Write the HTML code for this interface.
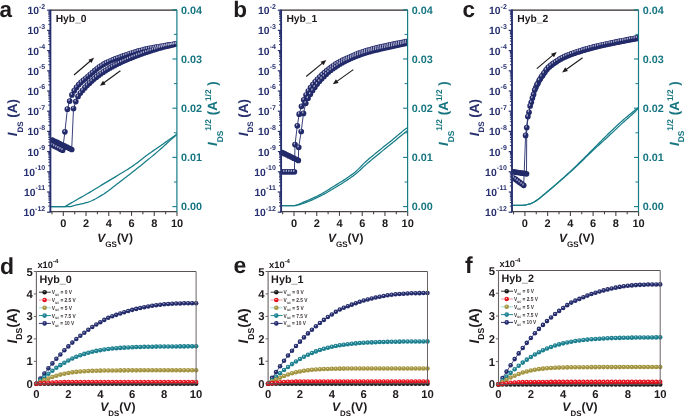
<!DOCTYPE html>
<html><head><meta charset="utf-8"><style>
html,body{margin:0;padding:0;background:#fff;width:685px;height:417px;overflow:hidden}
svg{display:block;font-family:"Liberation Sans", sans-serif;will-change:transform;text-rendering:geometricPrecision}
</style></head><body>
<svg width="685" height="417" viewBox="0 0 685 417">
<rect width="685" height="417" fill="#fff"/>
<defs>
<circle id="tb" r="2.85" fill="#222a69"/>
<ellipse id="th" cx="-0.8" cy="-0.9" rx="0.7" ry="1.15" fill="#acadcc" transform="rotate(10)"/>
<g id="td"><use href="#tb"/><use href="#th"/></g>
</defs>
<clipPath id="clipa"><rect x="50.4" y="10.2" width="126.5" height="201.5"/></clipPath>
<text x="-0.6" y="16.5" font-size="22.5" fill="#1f1a1b" text-anchor="start" font-weight="bold" font-style="normal" >a</text>
<text x="55.7" y="21.9" font-size="10.3" fill="#1f1a1b" text-anchor="start" font-weight="bold" font-style="normal" >Hyb_0</text>
<g clip-path="url(#clipa)">
<polyline points="50.5,206.6 65,206.6 66.26,205.86 67.52,205.12 68.78,204.38 70.03,203.64 71.29,202.9 72.55,202.17 73.81,201.44 75.07,200.72 76.33,200 77.58,199.28 78.84,198.57 80.1,197.86 81.36,197.16 82.62,196.45 83.88,195.74 85.13,195.02 86.39,194.3 87.65,193.57 88.91,192.84 90.17,192.09 91.43,191.33 92.69,190.57 93.94,189.8 95.2,189.02 96.46,188.24 97.72,187.47 98.98,186.69 100.24,185.91 101.49,185.14 102.75,184.37 104.01,183.61 105.27,182.85 106.53,182.1 107.79,181.35 109.04,180.6 110.3,179.85 111.56,179.1 112.82,178.35 114.08,177.6 115.34,176.85 116.6,176.09 117.85,175.33 119.11,174.56 120.37,173.79 121.63,173.02 122.89,172.25 124.15,171.49 125.4,170.72 126.66,169.94 127.92,169.16 129.18,168.36 130.44,167.55 131.7,166.71 132.96,165.86 134.21,164.98 135.47,164.07 136.73,163.13 137.99,162.17 139.25,161.2 140.51,160.21 141.76,159.23 143.02,158.24 144.28,157.27 145.54,156.31 146.8,155.36 148.06,154.44 149.31,153.54 150.57,152.64 151.83,151.76 153.09,150.88 154.35,150.01 155.61,149.14 156.87,148.27 158.12,147.41 159.38,146.54 160.64,145.67 161.9,144.79 163.16,143.91 164.42,143.02 165.67,142.12 166.93,141.22 168.19,140.32 169.45,139.42 170.71,138.53 171.97,137.64 173.22,136.76 174.48,135.89 175.74,135.03 177,134.2" fill="none" stroke="#167d87" stroke-width="1.25" stroke-linejoin="round" />
<polyline points="50.5,206.6 70.8,206.6 71.99,206.22 73.19,205.85 74.38,205.51 75.57,205.18 76.77,204.89 77.96,204.61 79.15,204.34 80.35,204.08 81.54,203.82 82.73,203.55 83.93,203.28 85.12,202.98 86.31,202.66 87.51,202.32 88.7,201.93 89.89,201.51 91.09,201.03 92.28,200.5 93.47,199.93 94.67,199.32 95.86,198.68 97.05,198.01 98.24,197.32 99.44,196.6 100.63,195.88 101.82,195.15 103.02,194.41 104.21,193.66 105.4,192.87 106.6,192.04 107.79,191.18 108.98,190.29 110.18,189.38 111.37,188.46 112.56,187.53 113.76,186.59 114.95,185.66 116.14,184.73 117.34,183.8 118.53,182.9 119.72,181.99 120.92,181.08 122.11,180.17 123.3,179.26 124.5,178.34 125.69,177.42 126.88,176.5 128.08,175.57 129.27,174.64 130.46,173.71 131.66,172.78 132.85,171.84 134.04,170.9 135.24,169.96 136.43,169.01 137.62,168.06 138.82,167.11 140.01,166.15 141.2,165.19 142.4,164.23 143.59,163.26 144.78,162.29 145.98,161.32 147.17,160.34 148.36,159.35 149.56,158.37 150.75,157.38 151.94,156.39 153.13,155.4 154.33,154.4 155.52,153.4 156.71,152.39 157.91,151.38 159.1,150.35 160.29,149.32 161.49,148.28 162.68,147.23 163.87,146.15 165.07,145.05 166.26,143.94 167.45,142.83 168.65,141.72 169.84,140.64 171.03,139.6 172.23,138.6 173.42,137.59 174.61,136.54 175.81,135.41 177,134.2" fill="none" stroke="#167d87" stroke-width="1.25" stroke-linejoin="round" />
<polyline points="52.3,140.1 54.72,141.28 57.15,142.45 59.58,143.62 62,144.8 64.42,145.97 66.85,147.15 69.28,148.32 71.7,149.5 73.5,108.5 75.77,101.56 78.05,96.41 80.32,93.05 82.6,90.28 84.87,87.71 87.14,85.36 89.42,83.15 91.69,81.07 93.97,79.1 96.24,77.22 98.51,75.43 100.79,73.75 103.06,72.19 105.34,70.71 107.61,69.3 109.88,67.97 112.16,66.69 114.43,65.48 116.71,64.31 118.98,63.19 121.25,62.11 123.53,61.07 125.8,60.07 128.08,59.1 130.35,58.16 132.62,57.23 134.9,56.33 137.17,55.45 139.45,54.6 141.72,53.78 143.99,52.99 146.27,52.23 148.54,51.47 150.82,50.74 153.09,50 155.36,49.28 157.64,48.58 159.91,47.92 162.19,47.31 164.46,46.73 166.73,46.17 169.01,45.63 171.28,45.11 173.56,44.61 175.83,44.14" fill="none" stroke="#222a69" stroke-width="0.9" stroke-linejoin="round" />
<polyline points="52.3,145 54.36,146.04 56.42,147.08 58.48,148.12 60.54,149.16 62.6,150.2 64.9,131.8 67.4,109.2 69.67,101.08 71.95,94.9 74.22,90.69 76.5,87.4 78.77,84.62 81.04,82.29 83.32,80.34 85.59,78.48 87.87,76.5 90.14,74.52 92.41,72.59 94.69,70.66 96.96,68.76 99.24,67.02 101.51,65.53 103.78,64.17 106.06,62.92 108.33,61.78 110.61,60.73 112.88,59.8 115.15,58.94 117.43,58.13 119.7,57.31 121.98,56.47 124.25,55.62 126.52,54.8 128.8,54 131.07,53.25 133.35,52.53 135.62,51.83 137.89,51.17 140.17,50.56 142.44,49.98 144.72,49.44 146.99,48.93 149.26,48.45 151.54,48 153.81,47.58 156.09,47.18 158.36,46.78 160.63,46.39 162.91,45.99 165.18,45.6 167.46,45.22 169.73,44.84 172,44.48 174.28,44.12 176.55,43.77" fill="none" stroke="#222a69" stroke-width="0.9" stroke-linejoin="round" />
<use href="#tb" x="52.3" y="145"/>
<use href="#tb" x="54.36" y="146.04"/>
<use href="#tb" x="56.42" y="147.08"/>
<use href="#tb" x="58.48" y="148.12"/>
<use href="#tb" x="60.54" y="149.16"/>
<use href="#tb" x="62.6" y="150.2"/>
<use href="#tb" x="64.9" y="131.8"/>
<use href="#tb" x="67.4" y="109.2"/>
<use href="#tb" x="69.67" y="101.08"/>
<use href="#tb" x="71.95" y="94.9"/>
<use href="#tb" x="74.22" y="90.69"/>
<use href="#tb" x="76.5" y="87.4"/>
<use href="#tb" x="78.77" y="84.62"/>
<use href="#tb" x="81.04" y="82.29"/>
<use href="#tb" x="83.32" y="80.34"/>
<use href="#tb" x="85.59" y="78.48"/>
<use href="#tb" x="87.87" y="76.5"/>
<use href="#tb" x="90.14" y="74.52"/>
<use href="#tb" x="92.41" y="72.59"/>
<use href="#tb" x="94.69" y="70.66"/>
<use href="#tb" x="96.96" y="68.76"/>
<use href="#tb" x="99.24" y="67.02"/>
<use href="#tb" x="101.51" y="65.53"/>
<use href="#tb" x="103.78" y="64.17"/>
<use href="#tb" x="106.06" y="62.92"/>
<use href="#tb" x="108.33" y="61.78"/>
<use href="#tb" x="110.61" y="60.73"/>
<use href="#tb" x="112.88" y="59.8"/>
<use href="#tb" x="115.15" y="58.94"/>
<use href="#tb" x="117.43" y="58.13"/>
<use href="#tb" x="119.7" y="57.31"/>
<use href="#tb" x="121.98" y="56.47"/>
<use href="#tb" x="124.25" y="55.62"/>
<use href="#tb" x="126.52" y="54.8"/>
<use href="#tb" x="128.8" y="54"/>
<use href="#tb" x="131.07" y="53.25"/>
<use href="#tb" x="133.35" y="52.53"/>
<use href="#tb" x="135.62" y="51.83"/>
<use href="#tb" x="137.89" y="51.17"/>
<use href="#tb" x="140.17" y="50.56"/>
<use href="#tb" x="142.44" y="49.98"/>
<use href="#tb" x="144.72" y="49.44"/>
<use href="#tb" x="146.99" y="48.93"/>
<use href="#tb" x="149.26" y="48.45"/>
<use href="#tb" x="151.54" y="48"/>
<use href="#tb" x="153.81" y="47.58"/>
<use href="#tb" x="156.09" y="47.18"/>
<use href="#tb" x="158.36" y="46.78"/>
<use href="#tb" x="160.63" y="46.39"/>
<use href="#tb" x="162.91" y="45.99"/>
<use href="#tb" x="165.18" y="45.6"/>
<use href="#tb" x="167.46" y="45.22"/>
<use href="#tb" x="169.73" y="44.84"/>
<use href="#tb" x="172" y="44.48"/>
<use href="#tb" x="174.28" y="44.12"/>
<use href="#tb" x="176.55" y="43.77"/>
<use href="#tb" x="175.83" y="44.14"/>
<use href="#tb" x="173.56" y="44.61"/>
<use href="#tb" x="171.28" y="45.11"/>
<use href="#tb" x="169.01" y="45.63"/>
<use href="#tb" x="166.73" y="46.17"/>
<use href="#tb" x="164.46" y="46.73"/>
<use href="#tb" x="162.19" y="47.31"/>
<use href="#tb" x="159.91" y="47.92"/>
<use href="#tb" x="157.64" y="48.58"/>
<use href="#tb" x="155.36" y="49.28"/>
<use href="#tb" x="153.09" y="50"/>
<use href="#tb" x="150.82" y="50.74"/>
<use href="#tb" x="148.54" y="51.47"/>
<use href="#tb" x="146.27" y="52.23"/>
<use href="#tb" x="143.99" y="52.99"/>
<use href="#tb" x="141.72" y="53.78"/>
<use href="#tb" x="139.45" y="54.6"/>
<use href="#tb" x="137.17" y="55.45"/>
<use href="#tb" x="134.9" y="56.33"/>
<use href="#tb" x="132.62" y="57.23"/>
<use href="#tb" x="130.35" y="58.16"/>
<use href="#tb" x="128.08" y="59.1"/>
<use href="#tb" x="125.8" y="60.07"/>
<use href="#tb" x="123.53" y="61.07"/>
<use href="#tb" x="121.25" y="62.11"/>
<use href="#tb" x="118.98" y="63.19"/>
<use href="#tb" x="116.71" y="64.31"/>
<use href="#tb" x="114.43" y="65.48"/>
<use href="#tb" x="112.16" y="66.69"/>
<use href="#tb" x="109.88" y="67.97"/>
<use href="#tb" x="107.61" y="69.3"/>
<use href="#tb" x="105.34" y="70.71"/>
<use href="#tb" x="103.06" y="72.19"/>
<use href="#tb" x="100.79" y="73.75"/>
<use href="#tb" x="98.51" y="75.43"/>
<use href="#tb" x="96.24" y="77.22"/>
<use href="#tb" x="93.97" y="79.1"/>
<use href="#tb" x="91.69" y="81.07"/>
<use href="#tb" x="89.42" y="83.15"/>
<use href="#tb" x="87.14" y="85.36"/>
<use href="#tb" x="84.87" y="87.71"/>
<use href="#tb" x="82.6" y="90.28"/>
<use href="#tb" x="80.32" y="93.05"/>
<use href="#tb" x="78.05" y="96.41"/>
<use href="#tb" x="75.77" y="101.56"/>
<use href="#tb" x="73.5" y="108.5"/>
<use href="#tb" x="71.7" y="149.5"/>
<use href="#tb" x="69.28" y="148.32"/>
<use href="#tb" x="66.85" y="147.15"/>
<use href="#tb" x="64.42" y="145.97"/>
<use href="#tb" x="62" y="144.8"/>
<use href="#tb" x="59.58" y="143.62"/>
<use href="#tb" x="57.15" y="142.45"/>
<use href="#tb" x="54.72" y="141.28"/>
<use href="#tb" x="52.3" y="140.1"/>
<use href="#th" x="52.3" y="145"/>
<use href="#th" x="54.36" y="146.04"/>
<use href="#th" x="56.42" y="147.08"/>
<use href="#th" x="58.48" y="148.12"/>
<use href="#th" x="60.54" y="149.16"/>
<use href="#th" x="62.6" y="150.2"/>
<use href="#th" x="64.9" y="131.8"/>
<use href="#th" x="67.4" y="109.2"/>
<use href="#th" x="69.67" y="101.08"/>
<use href="#th" x="71.95" y="94.9"/>
<use href="#th" x="74.22" y="90.69"/>
<use href="#th" x="76.5" y="87.4"/>
<use href="#th" x="78.77" y="84.62"/>
<use href="#th" x="81.04" y="82.29"/>
<use href="#th" x="83.32" y="80.34"/>
<use href="#th" x="85.59" y="78.48"/>
<use href="#th" x="87.87" y="76.5"/>
<use href="#th" x="90.14" y="74.52"/>
<use href="#th" x="92.41" y="72.59"/>
<use href="#th" x="94.69" y="70.66"/>
<use href="#th" x="96.96" y="68.76"/>
<use href="#th" x="99.24" y="67.02"/>
<use href="#th" x="101.51" y="65.53"/>
<use href="#th" x="103.78" y="64.17"/>
<use href="#th" x="106.06" y="62.92"/>
<use href="#th" x="108.33" y="61.78"/>
<use href="#th" x="110.61" y="60.73"/>
<use href="#th" x="112.88" y="59.8"/>
<use href="#th" x="115.15" y="58.94"/>
<use href="#th" x="117.43" y="58.13"/>
<use href="#th" x="119.7" y="57.31"/>
<use href="#th" x="121.98" y="56.47"/>
<use href="#th" x="124.25" y="55.62"/>
<use href="#th" x="126.52" y="54.8"/>
<use href="#th" x="128.8" y="54"/>
<use href="#th" x="131.07" y="53.25"/>
<use href="#th" x="133.35" y="52.53"/>
<use href="#th" x="135.62" y="51.83"/>
<use href="#th" x="137.89" y="51.17"/>
<use href="#th" x="140.17" y="50.56"/>
<use href="#th" x="142.44" y="49.98"/>
<use href="#th" x="144.72" y="49.44"/>
<use href="#th" x="146.99" y="48.93"/>
<use href="#th" x="149.26" y="48.45"/>
<use href="#th" x="151.54" y="48"/>
<use href="#th" x="153.81" y="47.58"/>
<use href="#th" x="156.09" y="47.18"/>
<use href="#th" x="158.36" y="46.78"/>
<use href="#th" x="160.63" y="46.39"/>
<use href="#th" x="162.91" y="45.99"/>
<use href="#th" x="165.18" y="45.6"/>
<use href="#th" x="167.46" y="45.22"/>
<use href="#th" x="169.73" y="44.84"/>
<use href="#th" x="172" y="44.48"/>
<use href="#th" x="174.28" y="44.12"/>
<use href="#th" x="176.55" y="43.77"/>
<use href="#th" x="73.5" y="108.5"/>
<use href="#th" x="75.77" y="101.56"/>
<use href="#th" x="78.05" y="96.41"/>
<use href="#th" x="80.32" y="93.05"/>
<use href="#th" x="82.6" y="90.28"/>
<use href="#th" x="84.87" y="87.71"/>
<use href="#th" x="87.14" y="85.36"/>
<use href="#th" x="89.42" y="83.15"/>
<use href="#th" x="91.69" y="81.07"/>
<use href="#th" x="93.97" y="79.1"/>
<use href="#th" x="96.24" y="77.22"/>
<use href="#th" x="98.51" y="75.43"/>
<use href="#th" x="100.79" y="73.75"/>
<use href="#th" x="103.06" y="72.19"/>
<use href="#th" x="105.34" y="70.71"/>
<use href="#th" x="107.61" y="69.3"/>
<use href="#th" x="109.88" y="67.97"/>
<use href="#th" x="112.16" y="66.69"/>
<use href="#th" x="114.43" y="65.48"/>
<use href="#th" x="116.71" y="64.31"/>
<use href="#th" x="118.98" y="63.19"/>
<use href="#th" x="121.25" y="62.11"/>
<use href="#th" x="123.53" y="61.07"/>
<use href="#th" x="125.8" y="60.07"/>
<use href="#th" x="128.08" y="59.1"/>
<use href="#th" x="130.35" y="58.16"/>
<use href="#th" x="132.62" y="57.23"/>
<use href="#th" x="134.9" y="56.33"/>
<use href="#th" x="137.17" y="55.45"/>
<use href="#th" x="139.45" y="54.6"/>
<use href="#th" x="141.72" y="53.78"/>
<use href="#th" x="143.99" y="52.99"/>
<use href="#th" x="146.27" y="52.23"/>
<use href="#th" x="148.54" y="51.47"/>
<use href="#th" x="150.82" y="50.74"/>
<use href="#th" x="153.09" y="50"/>
<use href="#th" x="155.36" y="49.28"/>
<use href="#th" x="157.64" y="48.58"/>
<use href="#th" x="159.91" y="47.92"/>
<use href="#th" x="162.19" y="47.31"/>
<use href="#th" x="164.46" y="46.73"/>
<use href="#th" x="166.73" y="46.17"/>
<use href="#th" x="169.01" y="45.63"/>
<use href="#th" x="171.28" y="45.11"/>
<use href="#th" x="173.56" y="44.61"/>
<use href="#th" x="175.83" y="44.14"/>
</g>
<line x1="74" y1="75" x2="90.3" y2="61.05" stroke="#1f1a1b" stroke-width="1.15"/>
<polygon points="94.1,57.8 91.42,63.12 88.43,59.63" fill="#1f1a1b"/>
<line x1="120.4" y1="70.7" x2="103.93" y2="82.83" stroke="#1f1a1b" stroke-width="1.15"/>
<polygon points="99.9,85.8 102.96,80.69 105.69,84.39" fill="#1f1a1b"/>
<line x1="50.4" y1="10.2" x2="176.9" y2="10.2" stroke="#2e2829" stroke-width="1.2"/>
<line x1="49.5" y1="211.7" x2="176.9" y2="211.7" stroke="#4a4343" stroke-width="1.2"/>
<line x1="51.93" y1="211.7" x2="51.93" y2="214.3" stroke="#4a4343" stroke-width="1.1"/>
<line x1="63.3" y1="211.7" x2="63.3" y2="215.9" stroke="#4a4343" stroke-width="1.1"/>
<text x="63.3" y="226.8" font-size="11" fill="#1f1a1b" text-anchor="middle" font-weight="bold" font-style="normal" >0</text>
<line x1="74.67" y1="211.7" x2="74.67" y2="214.3" stroke="#4a4343" stroke-width="1.1"/>
<line x1="86.04" y1="211.7" x2="86.04" y2="215.9" stroke="#4a4343" stroke-width="1.1"/>
<text x="86.04" y="226.8" font-size="11" fill="#1f1a1b" text-anchor="middle" font-weight="bold" font-style="normal" >2</text>
<line x1="97.41" y1="211.7" x2="97.41" y2="214.3" stroke="#4a4343" stroke-width="1.1"/>
<line x1="108.78" y1="211.7" x2="108.78" y2="215.9" stroke="#4a4343" stroke-width="1.1"/>
<text x="108.78" y="226.8" font-size="11" fill="#1f1a1b" text-anchor="middle" font-weight="bold" font-style="normal" >4</text>
<line x1="120.15" y1="211.7" x2="120.15" y2="214.3" stroke="#4a4343" stroke-width="1.1"/>
<line x1="131.52" y1="211.7" x2="131.52" y2="215.9" stroke="#4a4343" stroke-width="1.1"/>
<text x="131.52" y="226.8" font-size="11" fill="#1f1a1b" text-anchor="middle" font-weight="bold" font-style="normal" >6</text>
<line x1="142.89" y1="211.7" x2="142.89" y2="214.3" stroke="#4a4343" stroke-width="1.1"/>
<line x1="154.26" y1="211.7" x2="154.26" y2="215.9" stroke="#4a4343" stroke-width="1.1"/>
<text x="154.26" y="226.8" font-size="11" fill="#1f1a1b" text-anchor="middle" font-weight="bold" font-style="normal" >8</text>
<line x1="165.63" y1="211.7" x2="165.63" y2="214.3" stroke="#4a4343" stroke-width="1.1"/>
<line x1="177" y1="211.7" x2="177" y2="215.9" stroke="#4a4343" stroke-width="1.1"/>
<text x="177" y="226.8" font-size="11" fill="#1f1a1b" text-anchor="middle" font-weight="bold" font-style="normal" >10</text>
<line x1="176.9" y1="9.8" x2="176.9" y2="212.2" stroke="#167d87" stroke-width="1.2"/>
<line x1="172.4" y1="9.8" x2="176.9" y2="9.8" stroke="#167d87" stroke-width="1.1"/>
<text x="181.1" y="13.5" font-size="10.8" fill="#157580" text-anchor="start" font-weight="bold" font-style="normal" >0.04</text>
<line x1="172.4" y1="59" x2="176.9" y2="59" stroke="#167d87" stroke-width="1.1"/>
<text x="181.1" y="62.7" font-size="10.8" fill="#157580" text-anchor="start" font-weight="bold" font-style="normal" >0.03</text>
<line x1="172.4" y1="108.2" x2="176.9" y2="108.2" stroke="#167d87" stroke-width="1.1"/>
<text x="181.1" y="111.9" font-size="10.8" fill="#157580" text-anchor="start" font-weight="bold" font-style="normal" >0.02</text>
<line x1="172.4" y1="157.4" x2="176.9" y2="157.4" stroke="#167d87" stroke-width="1.1"/>
<text x="181.1" y="161.1" font-size="10.8" fill="#157580" text-anchor="start" font-weight="bold" font-style="normal" >0.01</text>
<line x1="172.4" y1="206.6" x2="176.9" y2="206.6" stroke="#167d87" stroke-width="1.1"/>
<text x="181.1" y="210.3" font-size="10.8" fill="#157580" text-anchor="start" font-weight="bold" font-style="normal" >0.00</text>
<line x1="173.9" y1="34.4" x2="176.9" y2="34.4" stroke="#167d87" stroke-width="1.0"/>
<line x1="173.9" y1="83.6" x2="176.9" y2="83.6" stroke="#167d87" stroke-width="1.0"/>
<line x1="173.9" y1="132.8" x2="176.9" y2="132.8" stroke="#167d87" stroke-width="1.0"/>
<line x1="173.9" y1="182" x2="176.9" y2="182" stroke="#167d87" stroke-width="1.0"/>
<line x1="50.4" y1="9.6" x2="50.4" y2="212.3" stroke="#27306e" stroke-width="1.9"/>
<line x1="47.1" y1="10.2" x2="50.4" y2="10.2" stroke="#27306e" stroke-width="1.2"/>
<text x="45.2" y="14.2" font-size="10.4" fill="#27306e" text-anchor="end" font-weight="bold">10<tspan font-size="7" dy="-5.6">-2</tspan></text>
<line x1="48.3" y1="24.32" x2="50.4" y2="24.32" stroke="#27306e" stroke-width="1.0"/>
<line x1="48.3" y1="20.76" x2="50.4" y2="20.76" stroke="#27306e" stroke-width="1.0"/>
<line x1="48.3" y1="18.24" x2="50.4" y2="18.24" stroke="#27306e" stroke-width="1.0"/>
<line x1="48.3" y1="16.28" x2="50.4" y2="16.28" stroke="#27306e" stroke-width="1.0"/>
<line x1="48.3" y1="14.68" x2="50.4" y2="14.68" stroke="#27306e" stroke-width="1.0"/>
<line x1="48.3" y1="13.33" x2="50.4" y2="13.33" stroke="#27306e" stroke-width="1.0"/>
<line x1="48.3" y1="12.16" x2="50.4" y2="12.16" stroke="#27306e" stroke-width="1.0"/>
<line x1="48.3" y1="11.12" x2="50.4" y2="11.12" stroke="#27306e" stroke-width="1.0"/>
<line x1="47.1" y1="30.4" x2="50.4" y2="30.4" stroke="#27306e" stroke-width="1.2"/>
<text x="45.2" y="34.4" font-size="10.4" fill="#27306e" text-anchor="end" font-weight="bold">10<tspan font-size="7" dy="-5.6">-3</tspan></text>
<line x1="48.3" y1="44.52" x2="50.4" y2="44.52" stroke="#27306e" stroke-width="1.0"/>
<line x1="48.3" y1="40.96" x2="50.4" y2="40.96" stroke="#27306e" stroke-width="1.0"/>
<line x1="48.3" y1="38.44" x2="50.4" y2="38.44" stroke="#27306e" stroke-width="1.0"/>
<line x1="48.3" y1="36.48" x2="50.4" y2="36.48" stroke="#27306e" stroke-width="1.0"/>
<line x1="48.3" y1="34.88" x2="50.4" y2="34.88" stroke="#27306e" stroke-width="1.0"/>
<line x1="48.3" y1="33.53" x2="50.4" y2="33.53" stroke="#27306e" stroke-width="1.0"/>
<line x1="48.3" y1="32.36" x2="50.4" y2="32.36" stroke="#27306e" stroke-width="1.0"/>
<line x1="48.3" y1="31.32" x2="50.4" y2="31.32" stroke="#27306e" stroke-width="1.0"/>
<line x1="47.1" y1="50.6" x2="50.4" y2="50.6" stroke="#27306e" stroke-width="1.2"/>
<text x="45.2" y="54.6" font-size="10.4" fill="#27306e" text-anchor="end" font-weight="bold">10<tspan font-size="7" dy="-5.6">-4</tspan></text>
<line x1="48.3" y1="64.72" x2="50.4" y2="64.72" stroke="#27306e" stroke-width="1.0"/>
<line x1="48.3" y1="61.16" x2="50.4" y2="61.16" stroke="#27306e" stroke-width="1.0"/>
<line x1="48.3" y1="58.64" x2="50.4" y2="58.64" stroke="#27306e" stroke-width="1.0"/>
<line x1="48.3" y1="56.68" x2="50.4" y2="56.68" stroke="#27306e" stroke-width="1.0"/>
<line x1="48.3" y1="55.08" x2="50.4" y2="55.08" stroke="#27306e" stroke-width="1.0"/>
<line x1="48.3" y1="53.73" x2="50.4" y2="53.73" stroke="#27306e" stroke-width="1.0"/>
<line x1="48.3" y1="52.56" x2="50.4" y2="52.56" stroke="#27306e" stroke-width="1.0"/>
<line x1="48.3" y1="51.52" x2="50.4" y2="51.52" stroke="#27306e" stroke-width="1.0"/>
<line x1="47.1" y1="70.8" x2="50.4" y2="70.8" stroke="#27306e" stroke-width="1.2"/>
<text x="45.2" y="74.8" font-size="10.4" fill="#27306e" text-anchor="end" font-weight="bold">10<tspan font-size="7" dy="-5.6">-5</tspan></text>
<line x1="48.3" y1="84.92" x2="50.4" y2="84.92" stroke="#27306e" stroke-width="1.0"/>
<line x1="48.3" y1="81.36" x2="50.4" y2="81.36" stroke="#27306e" stroke-width="1.0"/>
<line x1="48.3" y1="78.84" x2="50.4" y2="78.84" stroke="#27306e" stroke-width="1.0"/>
<line x1="48.3" y1="76.88" x2="50.4" y2="76.88" stroke="#27306e" stroke-width="1.0"/>
<line x1="48.3" y1="75.28" x2="50.4" y2="75.28" stroke="#27306e" stroke-width="1.0"/>
<line x1="48.3" y1="73.93" x2="50.4" y2="73.93" stroke="#27306e" stroke-width="1.0"/>
<line x1="48.3" y1="72.76" x2="50.4" y2="72.76" stroke="#27306e" stroke-width="1.0"/>
<line x1="48.3" y1="71.72" x2="50.4" y2="71.72" stroke="#27306e" stroke-width="1.0"/>
<line x1="47.1" y1="91" x2="50.4" y2="91" stroke="#27306e" stroke-width="1.2"/>
<text x="45.2" y="95" font-size="10.4" fill="#27306e" text-anchor="end" font-weight="bold">10<tspan font-size="7" dy="-5.6">-6</tspan></text>
<line x1="48.3" y1="105.12" x2="50.4" y2="105.12" stroke="#27306e" stroke-width="1.0"/>
<line x1="48.3" y1="101.56" x2="50.4" y2="101.56" stroke="#27306e" stroke-width="1.0"/>
<line x1="48.3" y1="99.04" x2="50.4" y2="99.04" stroke="#27306e" stroke-width="1.0"/>
<line x1="48.3" y1="97.08" x2="50.4" y2="97.08" stroke="#27306e" stroke-width="1.0"/>
<line x1="48.3" y1="95.48" x2="50.4" y2="95.48" stroke="#27306e" stroke-width="1.0"/>
<line x1="48.3" y1="94.13" x2="50.4" y2="94.13" stroke="#27306e" stroke-width="1.0"/>
<line x1="48.3" y1="92.96" x2="50.4" y2="92.96" stroke="#27306e" stroke-width="1.0"/>
<line x1="48.3" y1="91.92" x2="50.4" y2="91.92" stroke="#27306e" stroke-width="1.0"/>
<line x1="47.1" y1="111.2" x2="50.4" y2="111.2" stroke="#27306e" stroke-width="1.2"/>
<text x="45.2" y="115.2" font-size="10.4" fill="#27306e" text-anchor="end" font-weight="bold">10<tspan font-size="7" dy="-5.6">-7</tspan></text>
<line x1="48.3" y1="125.32" x2="50.4" y2="125.32" stroke="#27306e" stroke-width="1.0"/>
<line x1="48.3" y1="121.76" x2="50.4" y2="121.76" stroke="#27306e" stroke-width="1.0"/>
<line x1="48.3" y1="119.24" x2="50.4" y2="119.24" stroke="#27306e" stroke-width="1.0"/>
<line x1="48.3" y1="117.28" x2="50.4" y2="117.28" stroke="#27306e" stroke-width="1.0"/>
<line x1="48.3" y1="115.68" x2="50.4" y2="115.68" stroke="#27306e" stroke-width="1.0"/>
<line x1="48.3" y1="114.33" x2="50.4" y2="114.33" stroke="#27306e" stroke-width="1.0"/>
<line x1="48.3" y1="113.16" x2="50.4" y2="113.16" stroke="#27306e" stroke-width="1.0"/>
<line x1="48.3" y1="112.12" x2="50.4" y2="112.12" stroke="#27306e" stroke-width="1.0"/>
<line x1="47.1" y1="131.4" x2="50.4" y2="131.4" stroke="#27306e" stroke-width="1.2"/>
<text x="45.2" y="135.4" font-size="10.4" fill="#27306e" text-anchor="end" font-weight="bold">10<tspan font-size="7" dy="-5.6">-8</tspan></text>
<line x1="48.3" y1="145.52" x2="50.4" y2="145.52" stroke="#27306e" stroke-width="1.0"/>
<line x1="48.3" y1="141.96" x2="50.4" y2="141.96" stroke="#27306e" stroke-width="1.0"/>
<line x1="48.3" y1="139.44" x2="50.4" y2="139.44" stroke="#27306e" stroke-width="1.0"/>
<line x1="48.3" y1="137.48" x2="50.4" y2="137.48" stroke="#27306e" stroke-width="1.0"/>
<line x1="48.3" y1="135.88" x2="50.4" y2="135.88" stroke="#27306e" stroke-width="1.0"/>
<line x1="48.3" y1="134.53" x2="50.4" y2="134.53" stroke="#27306e" stroke-width="1.0"/>
<line x1="48.3" y1="133.36" x2="50.4" y2="133.36" stroke="#27306e" stroke-width="1.0"/>
<line x1="48.3" y1="132.32" x2="50.4" y2="132.32" stroke="#27306e" stroke-width="1.0"/>
<line x1="47.1" y1="151.6" x2="50.4" y2="151.6" stroke="#27306e" stroke-width="1.2"/>
<text x="45.2" y="155.6" font-size="10.4" fill="#27306e" text-anchor="end" font-weight="bold">10<tspan font-size="7" dy="-5.6">-9</tspan></text>
<line x1="48.3" y1="165.72" x2="50.4" y2="165.72" stroke="#27306e" stroke-width="1.0"/>
<line x1="48.3" y1="162.16" x2="50.4" y2="162.16" stroke="#27306e" stroke-width="1.0"/>
<line x1="48.3" y1="159.64" x2="50.4" y2="159.64" stroke="#27306e" stroke-width="1.0"/>
<line x1="48.3" y1="157.68" x2="50.4" y2="157.68" stroke="#27306e" stroke-width="1.0"/>
<line x1="48.3" y1="156.08" x2="50.4" y2="156.08" stroke="#27306e" stroke-width="1.0"/>
<line x1="48.3" y1="154.73" x2="50.4" y2="154.73" stroke="#27306e" stroke-width="1.0"/>
<line x1="48.3" y1="153.56" x2="50.4" y2="153.56" stroke="#27306e" stroke-width="1.0"/>
<line x1="48.3" y1="152.52" x2="50.4" y2="152.52" stroke="#27306e" stroke-width="1.0"/>
<line x1="47.1" y1="171.8" x2="50.4" y2="171.8" stroke="#27306e" stroke-width="1.2"/>
<text x="45.2" y="175.8" font-size="10.4" fill="#27306e" text-anchor="end" font-weight="bold">10<tspan font-size="7" dy="-5.6">-10</tspan></text>
<line x1="48.3" y1="185.92" x2="50.4" y2="185.92" stroke="#27306e" stroke-width="1.0"/>
<line x1="48.3" y1="182.36" x2="50.4" y2="182.36" stroke="#27306e" stroke-width="1.0"/>
<line x1="48.3" y1="179.84" x2="50.4" y2="179.84" stroke="#27306e" stroke-width="1.0"/>
<line x1="48.3" y1="177.88" x2="50.4" y2="177.88" stroke="#27306e" stroke-width="1.0"/>
<line x1="48.3" y1="176.28" x2="50.4" y2="176.28" stroke="#27306e" stroke-width="1.0"/>
<line x1="48.3" y1="174.93" x2="50.4" y2="174.93" stroke="#27306e" stroke-width="1.0"/>
<line x1="48.3" y1="173.76" x2="50.4" y2="173.76" stroke="#27306e" stroke-width="1.0"/>
<line x1="48.3" y1="172.72" x2="50.4" y2="172.72" stroke="#27306e" stroke-width="1.0"/>
<line x1="47.1" y1="192" x2="50.4" y2="192" stroke="#27306e" stroke-width="1.2"/>
<text x="45.2" y="196" font-size="10.4" fill="#27306e" text-anchor="end" font-weight="bold">10<tspan font-size="7" dy="-5.6">-11</tspan></text>
<line x1="48.3" y1="206.12" x2="50.4" y2="206.12" stroke="#27306e" stroke-width="1.0"/>
<line x1="48.3" y1="202.56" x2="50.4" y2="202.56" stroke="#27306e" stroke-width="1.0"/>
<line x1="48.3" y1="200.04" x2="50.4" y2="200.04" stroke="#27306e" stroke-width="1.0"/>
<line x1="48.3" y1="198.08" x2="50.4" y2="198.08" stroke="#27306e" stroke-width="1.0"/>
<line x1="48.3" y1="196.48" x2="50.4" y2="196.48" stroke="#27306e" stroke-width="1.0"/>
<line x1="48.3" y1="195.13" x2="50.4" y2="195.13" stroke="#27306e" stroke-width="1.0"/>
<line x1="48.3" y1="193.96" x2="50.4" y2="193.96" stroke="#27306e" stroke-width="1.0"/>
<line x1="48.3" y1="192.92" x2="50.4" y2="192.92" stroke="#27306e" stroke-width="1.0"/>
<line x1="47.1" y1="212.2" x2="50.4" y2="212.2" stroke="#27306e" stroke-width="1.2"/>
<text x="45.2" y="216.2" font-size="10.4" fill="#27306e" text-anchor="end" font-weight="bold">10<tspan font-size="7" dy="-5.6">-12</tspan></text>
<text x="97.3" y="241.7" font-size="12" fill="#1f1a1b" font-weight="bold"><tspan font-style="italic">V</tspan><tspan font-size="8" dy="5.4">GS</tspan><tspan dy="-5.4">(V)</tspan></text>
<text transform="translate(17.4,136.3) rotate(-90)" font-size="13.5" fill="#27306e" font-weight="bold"><tspan font-style="italic">I</tspan><tspan font-size="8" dy="5.2">DS</tspan><tspan dy="-5.2"> (A)</tspan></text>
<text transform="translate(217.2,146) rotate(-90)" font-size="13.4" fill="#157580" font-weight="bold"><tspan font-style="italic">I</tspan><tspan font-size="8.4" dy="5.6">DS</tspan><tspan font-size="8.4" dy="-11.4">1/2</tspan><tspan dy="5.8"> (A</tspan><tspan font-size="8.4" dy="-5.8">1/2</tspan><tspan dy="5.8"> )</tspan></text>
<clipPath id="clipb"><rect x="281.1" y="10.2" width="126.5" height="201.5"/></clipPath>
<text x="233.3" y="16.5" font-size="22.5" fill="#1f1a1b" text-anchor="start" font-weight="bold" font-style="normal" >b</text>
<text x="286.4" y="21.9" font-size="10.3" fill="#1f1a1b" text-anchor="start" font-weight="bold" font-style="normal" >Hyb_1</text>
<g clip-path="url(#clipb)">
<polyline points="281.2,205.6 294,205.6 295.28,205.27 296.55,204.9 297.83,204.49 299.11,204.02 300.38,203.51 301.66,202.98 302.93,202.43 304.21,201.88 305.49,201.34 306.76,200.8 308.04,200.26 309.32,199.71 310.59,199.16 311.87,198.59 313.15,198.02 314.42,197.44 315.7,196.83 316.98,196.22 318.25,195.58 319.53,194.92 320.8,194.23 322.08,193.51 323.36,192.77 324.63,192.02 325.91,191.24 327.19,190.45 328.46,189.66 329.74,188.86 331.02,188.06 332.29,187.26 333.57,186.47 334.84,185.69 336.12,184.9 337.4,184.12 338.67,183.33 339.95,182.53 341.23,181.73 342.5,180.92 343.78,180.1 345.06,179.27 346.33,178.42 347.61,177.56 348.89,176.68 350.16,175.78 351.44,174.87 352.71,173.93 353.99,172.96 355.27,171.93 356.54,170.84 357.82,169.65 359.1,168.38 360.37,167.06 361.65,165.73 362.93,164.41 364.2,163.13 365.48,161.94 366.76,160.79 368.03,159.68 369.31,158.58 370.58,157.51 371.86,156.45 373.14,155.41 374.41,154.37 375.69,153.34 376.97,152.3 378.24,151.27 379.52,150.22 380.8,149.18 382.07,148.14 383.35,147.11 384.62,146.09 385.9,145.06 387.18,144.04 388.45,143.01 389.73,141.98 391.01,140.95 392.28,139.9 393.56,138.85 394.84,137.78 396.11,136.7 397.39,135.62 398.67,134.54 399.94,133.47 401.22,132.41 402.49,131.37 403.77,130.35 405.05,129.36 406.32,128.42 407.6,127.5" fill="none" stroke="#167d87" stroke-width="1.25" stroke-linejoin="round" />
<polyline points="281.2,205.6 296,205.6 297.25,205.26 298.51,204.9 299.76,204.53 301.02,204.14 302.27,203.73 303.52,203.31 304.78,202.87 306.03,202.4 307.29,201.92 308.54,201.42 309.79,200.91 311.05,200.37 312.3,199.83 313.56,199.27 314.81,198.69 316.06,198.11 317.32,197.51 318.57,196.91 319.82,196.3 321.08,195.66 322.33,195 323.59,194.33 324.84,193.64 326.09,192.94 327.35,192.22 328.6,191.5 329.86,190.77 331.11,190.03 332.36,189.29 333.62,188.55 334.87,187.81 336.13,187.05 337.38,186.29 338.63,185.52 339.89,184.74 341.14,183.95 342.4,183.16 343.65,182.35 344.9,181.54 346.16,180.71 347.41,179.87 348.67,179.03 349.92,178.17 351.17,177.31 352.43,176.42 353.68,175.51 354.93,174.56 356.19,173.57 357.44,172.5 358.7,171.37 359.95,170.2 361.2,169.01 362.46,167.81 363.71,166.63 364.97,165.49 366.22,164.4 367.47,163.32 368.73,162.25 369.98,161.19 371.24,160.14 372.49,159.1 373.74,158.06 375,157.03 376.25,156 377.51,154.97 378.76,153.94 380.01,152.92 381.27,151.89 382.52,150.88 383.78,149.87 385.03,148.86 386.28,147.85 387.54,146.85 388.79,145.84 390.04,144.83 391.3,143.81 392.55,142.78 393.81,141.75 395.06,140.7 396.31,139.65 397.57,138.6 398.82,137.55 400.08,136.51 401.33,135.47 402.58,134.44 403.84,133.43 405.09,132.43 406.35,131.45 407.6,130.5" fill="none" stroke="#167d87" stroke-width="1.25" stroke-linejoin="round" />
<polyline points="282.2,152.5 284.5,153.63 286.8,154.76 289.1,155.89 291.4,157.01 293.7,158.14 296,159.27 298.3,160.4 298.7,147.3 301.2,131.5 303.47,113.45 305.75,103.26 308.02,98.26 310.3,94.15 312.57,90.52 314.84,87.15 317.12,84.1 319.39,81.35 321.67,78.78 323.94,76.38 326.21,74.16 328.49,72.12 330.76,70.26 333.04,68.52 335.31,66.9 337.58,65.4 339.86,64.01 342.13,62.71 344.41,61.5 346.68,60.36 348.95,59.28 351.23,58.25 353.5,57.25 355.78,56.31 358.05,55.41 360.32,54.57 362.6,53.78 364.87,53.03 367.15,52.32 369.42,51.66 371.69,51.04 373.97,50.46 376.24,49.91 378.52,49.38 380.79,48.85 383.06,48.32 385.34,47.8 387.61,47.29 389.89,46.78 392.16,46.28 394.43,45.79 396.71,45.29 398.98,44.8 401.26,44.33 403.53,43.87 405.8,43.46 408.08,43.09" fill="none" stroke="#222a69" stroke-width="0.9" stroke-linejoin="round" />
<polyline points="282,171.8 284.48,171.8 286.96,171.8 289.44,171.8 291.92,171.8 294.4,171.8 295,144.6 297.3,125.8 299.2,114.2 301.47,106.3 303.75,99.81 306.02,95.02 308.3,91.02 310.57,87.59 312.84,84.57 315.12,81.84 317.39,79.36 319.67,77.05 321.94,74.89 324.21,72.85 326.49,70.94 328.76,69.12 331.04,67.38 333.31,65.73 335.58,64.19 337.86,62.8 340.13,61.55 342.41,60.42 344.68,59.36 346.95,58.35 349.23,57.35 351.5,56.32 353.78,55.29 356.05,54.28 358.32,53.35 360.6,52.52 362.87,51.77 365.15,51.08 367.42,50.42 369.69,49.79 371.97,49.16 374.24,48.55 376.52,47.96 378.79,47.4 381.06,46.86 383.34,46.34 385.61,45.84 387.89,45.36 390.16,44.89 392.43,44.42 394.71,43.95 396.98,43.47 399.26,43.01 401.53,42.55 403.8,42.12 406.08,41.71 408.35,41.34" fill="none" stroke="#222a69" stroke-width="0.9" stroke-linejoin="round" />
<use href="#tb" x="282" y="171.8"/>
<use href="#tb" x="284.48" y="171.8"/>
<use href="#tb" x="286.96" y="171.8"/>
<use href="#tb" x="289.44" y="171.8"/>
<use href="#tb" x="291.92" y="171.8"/>
<use href="#tb" x="294.4" y="171.8"/>
<use href="#tb" x="295" y="144.6"/>
<use href="#tb" x="297.3" y="125.8"/>
<use href="#tb" x="299.2" y="114.2"/>
<use href="#tb" x="301.47" y="106.3"/>
<use href="#tb" x="303.75" y="99.81"/>
<use href="#tb" x="306.02" y="95.02"/>
<use href="#tb" x="308.3" y="91.02"/>
<use href="#tb" x="310.57" y="87.59"/>
<use href="#tb" x="312.84" y="84.57"/>
<use href="#tb" x="315.12" y="81.84"/>
<use href="#tb" x="317.39" y="79.36"/>
<use href="#tb" x="319.67" y="77.05"/>
<use href="#tb" x="321.94" y="74.89"/>
<use href="#tb" x="324.21" y="72.85"/>
<use href="#tb" x="326.49" y="70.94"/>
<use href="#tb" x="328.76" y="69.12"/>
<use href="#tb" x="331.04" y="67.38"/>
<use href="#tb" x="333.31" y="65.73"/>
<use href="#tb" x="335.58" y="64.19"/>
<use href="#tb" x="337.86" y="62.8"/>
<use href="#tb" x="340.13" y="61.55"/>
<use href="#tb" x="342.41" y="60.42"/>
<use href="#tb" x="344.68" y="59.36"/>
<use href="#tb" x="346.95" y="58.35"/>
<use href="#tb" x="349.23" y="57.35"/>
<use href="#tb" x="351.5" y="56.32"/>
<use href="#tb" x="353.78" y="55.29"/>
<use href="#tb" x="356.05" y="54.28"/>
<use href="#tb" x="358.32" y="53.35"/>
<use href="#tb" x="360.6" y="52.52"/>
<use href="#tb" x="362.87" y="51.77"/>
<use href="#tb" x="365.15" y="51.08"/>
<use href="#tb" x="367.42" y="50.42"/>
<use href="#tb" x="369.69" y="49.79"/>
<use href="#tb" x="371.97" y="49.16"/>
<use href="#tb" x="374.24" y="48.55"/>
<use href="#tb" x="376.52" y="47.96"/>
<use href="#tb" x="378.79" y="47.4"/>
<use href="#tb" x="381.06" y="46.86"/>
<use href="#tb" x="383.34" y="46.34"/>
<use href="#tb" x="385.61" y="45.84"/>
<use href="#tb" x="387.89" y="45.36"/>
<use href="#tb" x="390.16" y="44.89"/>
<use href="#tb" x="392.43" y="44.42"/>
<use href="#tb" x="394.71" y="43.95"/>
<use href="#tb" x="396.98" y="43.47"/>
<use href="#tb" x="399.26" y="43.01"/>
<use href="#tb" x="401.53" y="42.55"/>
<use href="#tb" x="403.8" y="42.12"/>
<use href="#tb" x="406.08" y="41.71"/>
<use href="#tb" x="408.35" y="41.34"/>
<use href="#tb" x="408.08" y="43.09"/>
<use href="#tb" x="405.8" y="43.46"/>
<use href="#tb" x="403.53" y="43.87"/>
<use href="#tb" x="401.26" y="44.33"/>
<use href="#tb" x="398.98" y="44.8"/>
<use href="#tb" x="396.71" y="45.29"/>
<use href="#tb" x="394.43" y="45.79"/>
<use href="#tb" x="392.16" y="46.28"/>
<use href="#tb" x="389.89" y="46.78"/>
<use href="#tb" x="387.61" y="47.29"/>
<use href="#tb" x="385.34" y="47.8"/>
<use href="#tb" x="383.06" y="48.32"/>
<use href="#tb" x="380.79" y="48.85"/>
<use href="#tb" x="378.52" y="49.38"/>
<use href="#tb" x="376.24" y="49.91"/>
<use href="#tb" x="373.97" y="50.46"/>
<use href="#tb" x="371.69" y="51.04"/>
<use href="#tb" x="369.42" y="51.66"/>
<use href="#tb" x="367.15" y="52.32"/>
<use href="#tb" x="364.87" y="53.03"/>
<use href="#tb" x="362.6" y="53.78"/>
<use href="#tb" x="360.32" y="54.57"/>
<use href="#tb" x="358.05" y="55.41"/>
<use href="#tb" x="355.78" y="56.31"/>
<use href="#tb" x="353.5" y="57.25"/>
<use href="#tb" x="351.23" y="58.25"/>
<use href="#tb" x="348.95" y="59.28"/>
<use href="#tb" x="346.68" y="60.36"/>
<use href="#tb" x="344.41" y="61.5"/>
<use href="#tb" x="342.13" y="62.71"/>
<use href="#tb" x="339.86" y="64.01"/>
<use href="#tb" x="337.58" y="65.4"/>
<use href="#tb" x="335.31" y="66.9"/>
<use href="#tb" x="333.04" y="68.52"/>
<use href="#tb" x="330.76" y="70.26"/>
<use href="#tb" x="328.49" y="72.12"/>
<use href="#tb" x="326.21" y="74.16"/>
<use href="#tb" x="323.94" y="76.38"/>
<use href="#tb" x="321.67" y="78.78"/>
<use href="#tb" x="319.39" y="81.35"/>
<use href="#tb" x="317.12" y="84.1"/>
<use href="#tb" x="314.84" y="87.15"/>
<use href="#tb" x="312.57" y="90.52"/>
<use href="#tb" x="310.3" y="94.15"/>
<use href="#tb" x="308.02" y="98.26"/>
<use href="#tb" x="305.75" y="103.26"/>
<use href="#tb" x="303.47" y="113.45"/>
<use href="#tb" x="301.2" y="131.5"/>
<use href="#tb" x="298.7" y="147.3"/>
<use href="#tb" x="298.3" y="160.4"/>
<use href="#tb" x="296" y="159.27"/>
<use href="#tb" x="293.7" y="158.14"/>
<use href="#tb" x="291.4" y="157.01"/>
<use href="#tb" x="289.1" y="155.89"/>
<use href="#tb" x="286.8" y="154.76"/>
<use href="#tb" x="284.5" y="153.63"/>
<use href="#tb" x="282.2" y="152.5"/>
<use href="#th" x="282" y="171.8"/>
<use href="#th" x="284.48" y="171.8"/>
<use href="#th" x="286.96" y="171.8"/>
<use href="#th" x="289.44" y="171.8"/>
<use href="#th" x="291.92" y="171.8"/>
<use href="#th" x="294.4" y="171.8"/>
<use href="#th" x="295" y="144.6"/>
<use href="#th" x="297.3" y="125.8"/>
<use href="#th" x="299.2" y="114.2"/>
<use href="#th" x="301.47" y="106.3"/>
<use href="#th" x="303.75" y="99.81"/>
<use href="#th" x="306.02" y="95.02"/>
<use href="#th" x="308.3" y="91.02"/>
<use href="#th" x="310.57" y="87.59"/>
<use href="#th" x="312.84" y="84.57"/>
<use href="#th" x="315.12" y="81.84"/>
<use href="#th" x="317.39" y="79.36"/>
<use href="#th" x="319.67" y="77.05"/>
<use href="#th" x="321.94" y="74.89"/>
<use href="#th" x="324.21" y="72.85"/>
<use href="#th" x="326.49" y="70.94"/>
<use href="#th" x="328.76" y="69.12"/>
<use href="#th" x="331.04" y="67.38"/>
<use href="#th" x="333.31" y="65.73"/>
<use href="#th" x="335.58" y="64.19"/>
<use href="#th" x="337.86" y="62.8"/>
<use href="#th" x="340.13" y="61.55"/>
<use href="#th" x="342.41" y="60.42"/>
<use href="#th" x="344.68" y="59.36"/>
<use href="#th" x="346.95" y="58.35"/>
<use href="#th" x="349.23" y="57.35"/>
<use href="#th" x="351.5" y="56.32"/>
<use href="#th" x="353.78" y="55.29"/>
<use href="#th" x="356.05" y="54.28"/>
<use href="#th" x="358.32" y="53.35"/>
<use href="#th" x="360.6" y="52.52"/>
<use href="#th" x="362.87" y="51.77"/>
<use href="#th" x="365.15" y="51.08"/>
<use href="#th" x="367.42" y="50.42"/>
<use href="#th" x="369.69" y="49.79"/>
<use href="#th" x="371.97" y="49.16"/>
<use href="#th" x="374.24" y="48.55"/>
<use href="#th" x="376.52" y="47.96"/>
<use href="#th" x="378.79" y="47.4"/>
<use href="#th" x="381.06" y="46.86"/>
<use href="#th" x="383.34" y="46.34"/>
<use href="#th" x="385.61" y="45.84"/>
<use href="#th" x="387.89" y="45.36"/>
<use href="#th" x="390.16" y="44.89"/>
<use href="#th" x="392.43" y="44.42"/>
<use href="#th" x="394.71" y="43.95"/>
<use href="#th" x="396.98" y="43.47"/>
<use href="#th" x="399.26" y="43.01"/>
<use href="#th" x="401.53" y="42.55"/>
<use href="#th" x="403.8" y="42.12"/>
<use href="#th" x="406.08" y="41.71"/>
<use href="#th" x="408.35" y="41.34"/>
<use href="#th" x="298.7" y="147.3"/>
<use href="#th" x="301.2" y="131.5"/>
<use href="#th" x="303.47" y="113.45"/>
<use href="#th" x="305.75" y="103.26"/>
<use href="#th" x="308.02" y="98.26"/>
<use href="#th" x="310.3" y="94.15"/>
<use href="#th" x="312.57" y="90.52"/>
<use href="#th" x="314.84" y="87.15"/>
<use href="#th" x="317.12" y="84.1"/>
<use href="#th" x="319.39" y="81.35"/>
<use href="#th" x="321.67" y="78.78"/>
<use href="#th" x="323.94" y="76.38"/>
<use href="#th" x="326.21" y="74.16"/>
<use href="#th" x="328.49" y="72.12"/>
<use href="#th" x="330.76" y="70.26"/>
<use href="#th" x="333.04" y="68.52"/>
<use href="#th" x="335.31" y="66.9"/>
<use href="#th" x="337.58" y="65.4"/>
<use href="#th" x="339.86" y="64.01"/>
<use href="#th" x="342.13" y="62.71"/>
<use href="#th" x="344.41" y="61.5"/>
<use href="#th" x="346.68" y="60.36"/>
<use href="#th" x="348.95" y="59.28"/>
<use href="#th" x="351.23" y="58.25"/>
<use href="#th" x="353.5" y="57.25"/>
<use href="#th" x="355.78" y="56.31"/>
<use href="#th" x="358.05" y="55.41"/>
<use href="#th" x="360.32" y="54.57"/>
<use href="#th" x="362.6" y="53.78"/>
<use href="#th" x="364.87" y="53.03"/>
<use href="#th" x="367.15" y="52.32"/>
<use href="#th" x="369.42" y="51.66"/>
<use href="#th" x="371.69" y="51.04"/>
<use href="#th" x="373.97" y="50.46"/>
<use href="#th" x="376.24" y="49.91"/>
<use href="#th" x="378.52" y="49.38"/>
<use href="#th" x="380.79" y="48.85"/>
<use href="#th" x="383.06" y="48.32"/>
<use href="#th" x="385.34" y="47.8"/>
<use href="#th" x="387.61" y="47.29"/>
<use href="#th" x="389.89" y="46.78"/>
<use href="#th" x="392.16" y="46.28"/>
<use href="#th" x="394.43" y="45.79"/>
<use href="#th" x="396.71" y="45.29"/>
<use href="#th" x="398.98" y="44.8"/>
<use href="#th" x="401.26" y="44.33"/>
<use href="#th" x="403.53" y="43.87"/>
<use href="#th" x="405.8" y="43.46"/>
<use href="#th" x="408.08" y="43.09"/>
</g>
<line x1="306.2" y1="76.5" x2="322.44" y2="63.08" stroke="#1f1a1b" stroke-width="1.15"/>
<polygon points="326.3,59.9 323.52,65.18 320.59,61.63" fill="#1f1a1b"/>
<line x1="353.3" y1="69.6" x2="336.86" y2="81.39" stroke="#1f1a1b" stroke-width="1.15"/>
<polygon points="332.8,84.3 335.93,79.23 338.61,82.96" fill="#1f1a1b"/>
<line x1="281.1" y1="10.2" x2="407.6" y2="10.2" stroke="#2e2829" stroke-width="1.2"/>
<line x1="280.2" y1="211.7" x2="407.6" y2="211.7" stroke="#4a4343" stroke-width="1.2"/>
<line x1="282.63" y1="211.7" x2="282.63" y2="214.3" stroke="#4a4343" stroke-width="1.1"/>
<line x1="294" y1="211.7" x2="294" y2="215.9" stroke="#4a4343" stroke-width="1.1"/>
<text x="294" y="226.8" font-size="11" fill="#1f1a1b" text-anchor="middle" font-weight="bold" font-style="normal" >0</text>
<line x1="305.37" y1="211.7" x2="305.37" y2="214.3" stroke="#4a4343" stroke-width="1.1"/>
<line x1="316.74" y1="211.7" x2="316.74" y2="215.9" stroke="#4a4343" stroke-width="1.1"/>
<text x="316.74" y="226.8" font-size="11" fill="#1f1a1b" text-anchor="middle" font-weight="bold" font-style="normal" >2</text>
<line x1="328.11" y1="211.7" x2="328.11" y2="214.3" stroke="#4a4343" stroke-width="1.1"/>
<line x1="339.48" y1="211.7" x2="339.48" y2="215.9" stroke="#4a4343" stroke-width="1.1"/>
<text x="339.48" y="226.8" font-size="11" fill="#1f1a1b" text-anchor="middle" font-weight="bold" font-style="normal" >4</text>
<line x1="350.85" y1="211.7" x2="350.85" y2="214.3" stroke="#4a4343" stroke-width="1.1"/>
<line x1="362.22" y1="211.7" x2="362.22" y2="215.9" stroke="#4a4343" stroke-width="1.1"/>
<text x="362.22" y="226.8" font-size="11" fill="#1f1a1b" text-anchor="middle" font-weight="bold" font-style="normal" >6</text>
<line x1="373.59" y1="211.7" x2="373.59" y2="214.3" stroke="#4a4343" stroke-width="1.1"/>
<line x1="384.96" y1="211.7" x2="384.96" y2="215.9" stroke="#4a4343" stroke-width="1.1"/>
<text x="384.96" y="226.8" font-size="11" fill="#1f1a1b" text-anchor="middle" font-weight="bold" font-style="normal" >8</text>
<line x1="396.33" y1="211.7" x2="396.33" y2="214.3" stroke="#4a4343" stroke-width="1.1"/>
<line x1="407.7" y1="211.7" x2="407.7" y2="215.9" stroke="#4a4343" stroke-width="1.1"/>
<text x="407.7" y="226.8" font-size="11" fill="#1f1a1b" text-anchor="middle" font-weight="bold" font-style="normal" >10</text>
<line x1="407.6" y1="9.8" x2="407.6" y2="212.2" stroke="#167d87" stroke-width="1.2"/>
<line x1="403.1" y1="9.8" x2="407.6" y2="9.8" stroke="#167d87" stroke-width="1.1"/>
<text x="411.8" y="13.5" font-size="10.8" fill="#157580" text-anchor="start" font-weight="bold" font-style="normal" >0.04</text>
<line x1="403.1" y1="59" x2="407.6" y2="59" stroke="#167d87" stroke-width="1.1"/>
<text x="411.8" y="62.7" font-size="10.8" fill="#157580" text-anchor="start" font-weight="bold" font-style="normal" >0.03</text>
<line x1="403.1" y1="108.2" x2="407.6" y2="108.2" stroke="#167d87" stroke-width="1.1"/>
<text x="411.8" y="111.9" font-size="10.8" fill="#157580" text-anchor="start" font-weight="bold" font-style="normal" >0.02</text>
<line x1="403.1" y1="157.4" x2="407.6" y2="157.4" stroke="#167d87" stroke-width="1.1"/>
<text x="411.8" y="161.1" font-size="10.8" fill="#157580" text-anchor="start" font-weight="bold" font-style="normal" >0.01</text>
<line x1="403.1" y1="206.6" x2="407.6" y2="206.6" stroke="#167d87" stroke-width="1.1"/>
<text x="411.8" y="210.3" font-size="10.8" fill="#157580" text-anchor="start" font-weight="bold" font-style="normal" >0.00</text>
<line x1="404.6" y1="34.4" x2="407.6" y2="34.4" stroke="#167d87" stroke-width="1.0"/>
<line x1="404.6" y1="83.6" x2="407.6" y2="83.6" stroke="#167d87" stroke-width="1.0"/>
<line x1="404.6" y1="132.8" x2="407.6" y2="132.8" stroke="#167d87" stroke-width="1.0"/>
<line x1="404.6" y1="182" x2="407.6" y2="182" stroke="#167d87" stroke-width="1.0"/>
<line x1="281.1" y1="9.6" x2="281.1" y2="212.3" stroke="#27306e" stroke-width="1.9"/>
<line x1="277.8" y1="10.2" x2="281.1" y2="10.2" stroke="#27306e" stroke-width="1.2"/>
<text x="275.9" y="14.2" font-size="10.4" fill="#27306e" text-anchor="end" font-weight="bold">10<tspan font-size="7" dy="-5.6">-2</tspan></text>
<line x1="279" y1="24.32" x2="281.1" y2="24.32" stroke="#27306e" stroke-width="1.0"/>
<line x1="279" y1="20.76" x2="281.1" y2="20.76" stroke="#27306e" stroke-width="1.0"/>
<line x1="279" y1="18.24" x2="281.1" y2="18.24" stroke="#27306e" stroke-width="1.0"/>
<line x1="279" y1="16.28" x2="281.1" y2="16.28" stroke="#27306e" stroke-width="1.0"/>
<line x1="279" y1="14.68" x2="281.1" y2="14.68" stroke="#27306e" stroke-width="1.0"/>
<line x1="279" y1="13.33" x2="281.1" y2="13.33" stroke="#27306e" stroke-width="1.0"/>
<line x1="279" y1="12.16" x2="281.1" y2="12.16" stroke="#27306e" stroke-width="1.0"/>
<line x1="279" y1="11.12" x2="281.1" y2="11.12" stroke="#27306e" stroke-width="1.0"/>
<line x1="277.8" y1="30.4" x2="281.1" y2="30.4" stroke="#27306e" stroke-width="1.2"/>
<text x="275.9" y="34.4" font-size="10.4" fill="#27306e" text-anchor="end" font-weight="bold">10<tspan font-size="7" dy="-5.6">-3</tspan></text>
<line x1="279" y1="44.52" x2="281.1" y2="44.52" stroke="#27306e" stroke-width="1.0"/>
<line x1="279" y1="40.96" x2="281.1" y2="40.96" stroke="#27306e" stroke-width="1.0"/>
<line x1="279" y1="38.44" x2="281.1" y2="38.44" stroke="#27306e" stroke-width="1.0"/>
<line x1="279" y1="36.48" x2="281.1" y2="36.48" stroke="#27306e" stroke-width="1.0"/>
<line x1="279" y1="34.88" x2="281.1" y2="34.88" stroke="#27306e" stroke-width="1.0"/>
<line x1="279" y1="33.53" x2="281.1" y2="33.53" stroke="#27306e" stroke-width="1.0"/>
<line x1="279" y1="32.36" x2="281.1" y2="32.36" stroke="#27306e" stroke-width="1.0"/>
<line x1="279" y1="31.32" x2="281.1" y2="31.32" stroke="#27306e" stroke-width="1.0"/>
<line x1="277.8" y1="50.6" x2="281.1" y2="50.6" stroke="#27306e" stroke-width="1.2"/>
<text x="275.9" y="54.6" font-size="10.4" fill="#27306e" text-anchor="end" font-weight="bold">10<tspan font-size="7" dy="-5.6">-4</tspan></text>
<line x1="279" y1="64.72" x2="281.1" y2="64.72" stroke="#27306e" stroke-width="1.0"/>
<line x1="279" y1="61.16" x2="281.1" y2="61.16" stroke="#27306e" stroke-width="1.0"/>
<line x1="279" y1="58.64" x2="281.1" y2="58.64" stroke="#27306e" stroke-width="1.0"/>
<line x1="279" y1="56.68" x2="281.1" y2="56.68" stroke="#27306e" stroke-width="1.0"/>
<line x1="279" y1="55.08" x2="281.1" y2="55.08" stroke="#27306e" stroke-width="1.0"/>
<line x1="279" y1="53.73" x2="281.1" y2="53.73" stroke="#27306e" stroke-width="1.0"/>
<line x1="279" y1="52.56" x2="281.1" y2="52.56" stroke="#27306e" stroke-width="1.0"/>
<line x1="279" y1="51.52" x2="281.1" y2="51.52" stroke="#27306e" stroke-width="1.0"/>
<line x1="277.8" y1="70.8" x2="281.1" y2="70.8" stroke="#27306e" stroke-width="1.2"/>
<text x="275.9" y="74.8" font-size="10.4" fill="#27306e" text-anchor="end" font-weight="bold">10<tspan font-size="7" dy="-5.6">-5</tspan></text>
<line x1="279" y1="84.92" x2="281.1" y2="84.92" stroke="#27306e" stroke-width="1.0"/>
<line x1="279" y1="81.36" x2="281.1" y2="81.36" stroke="#27306e" stroke-width="1.0"/>
<line x1="279" y1="78.84" x2="281.1" y2="78.84" stroke="#27306e" stroke-width="1.0"/>
<line x1="279" y1="76.88" x2="281.1" y2="76.88" stroke="#27306e" stroke-width="1.0"/>
<line x1="279" y1="75.28" x2="281.1" y2="75.28" stroke="#27306e" stroke-width="1.0"/>
<line x1="279" y1="73.93" x2="281.1" y2="73.93" stroke="#27306e" stroke-width="1.0"/>
<line x1="279" y1="72.76" x2="281.1" y2="72.76" stroke="#27306e" stroke-width="1.0"/>
<line x1="279" y1="71.72" x2="281.1" y2="71.72" stroke="#27306e" stroke-width="1.0"/>
<line x1="277.8" y1="91" x2="281.1" y2="91" stroke="#27306e" stroke-width="1.2"/>
<text x="275.9" y="95" font-size="10.4" fill="#27306e" text-anchor="end" font-weight="bold">10<tspan font-size="7" dy="-5.6">-6</tspan></text>
<line x1="279" y1="105.12" x2="281.1" y2="105.12" stroke="#27306e" stroke-width="1.0"/>
<line x1="279" y1="101.56" x2="281.1" y2="101.56" stroke="#27306e" stroke-width="1.0"/>
<line x1="279" y1="99.04" x2="281.1" y2="99.04" stroke="#27306e" stroke-width="1.0"/>
<line x1="279" y1="97.08" x2="281.1" y2="97.08" stroke="#27306e" stroke-width="1.0"/>
<line x1="279" y1="95.48" x2="281.1" y2="95.48" stroke="#27306e" stroke-width="1.0"/>
<line x1="279" y1="94.13" x2="281.1" y2="94.13" stroke="#27306e" stroke-width="1.0"/>
<line x1="279" y1="92.96" x2="281.1" y2="92.96" stroke="#27306e" stroke-width="1.0"/>
<line x1="279" y1="91.92" x2="281.1" y2="91.92" stroke="#27306e" stroke-width="1.0"/>
<line x1="277.8" y1="111.2" x2="281.1" y2="111.2" stroke="#27306e" stroke-width="1.2"/>
<text x="275.9" y="115.2" font-size="10.4" fill="#27306e" text-anchor="end" font-weight="bold">10<tspan font-size="7" dy="-5.6">-7</tspan></text>
<line x1="279" y1="125.32" x2="281.1" y2="125.32" stroke="#27306e" stroke-width="1.0"/>
<line x1="279" y1="121.76" x2="281.1" y2="121.76" stroke="#27306e" stroke-width="1.0"/>
<line x1="279" y1="119.24" x2="281.1" y2="119.24" stroke="#27306e" stroke-width="1.0"/>
<line x1="279" y1="117.28" x2="281.1" y2="117.28" stroke="#27306e" stroke-width="1.0"/>
<line x1="279" y1="115.68" x2="281.1" y2="115.68" stroke="#27306e" stroke-width="1.0"/>
<line x1="279" y1="114.33" x2="281.1" y2="114.33" stroke="#27306e" stroke-width="1.0"/>
<line x1="279" y1="113.16" x2="281.1" y2="113.16" stroke="#27306e" stroke-width="1.0"/>
<line x1="279" y1="112.12" x2="281.1" y2="112.12" stroke="#27306e" stroke-width="1.0"/>
<line x1="277.8" y1="131.4" x2="281.1" y2="131.4" stroke="#27306e" stroke-width="1.2"/>
<text x="275.9" y="135.4" font-size="10.4" fill="#27306e" text-anchor="end" font-weight="bold">10<tspan font-size="7" dy="-5.6">-8</tspan></text>
<line x1="279" y1="145.52" x2="281.1" y2="145.52" stroke="#27306e" stroke-width="1.0"/>
<line x1="279" y1="141.96" x2="281.1" y2="141.96" stroke="#27306e" stroke-width="1.0"/>
<line x1="279" y1="139.44" x2="281.1" y2="139.44" stroke="#27306e" stroke-width="1.0"/>
<line x1="279" y1="137.48" x2="281.1" y2="137.48" stroke="#27306e" stroke-width="1.0"/>
<line x1="279" y1="135.88" x2="281.1" y2="135.88" stroke="#27306e" stroke-width="1.0"/>
<line x1="279" y1="134.53" x2="281.1" y2="134.53" stroke="#27306e" stroke-width="1.0"/>
<line x1="279" y1="133.36" x2="281.1" y2="133.36" stroke="#27306e" stroke-width="1.0"/>
<line x1="279" y1="132.32" x2="281.1" y2="132.32" stroke="#27306e" stroke-width="1.0"/>
<line x1="277.8" y1="151.6" x2="281.1" y2="151.6" stroke="#27306e" stroke-width="1.2"/>
<text x="275.9" y="155.6" font-size="10.4" fill="#27306e" text-anchor="end" font-weight="bold">10<tspan font-size="7" dy="-5.6">-9</tspan></text>
<line x1="279" y1="165.72" x2="281.1" y2="165.72" stroke="#27306e" stroke-width="1.0"/>
<line x1="279" y1="162.16" x2="281.1" y2="162.16" stroke="#27306e" stroke-width="1.0"/>
<line x1="279" y1="159.64" x2="281.1" y2="159.64" stroke="#27306e" stroke-width="1.0"/>
<line x1="279" y1="157.68" x2="281.1" y2="157.68" stroke="#27306e" stroke-width="1.0"/>
<line x1="279" y1="156.08" x2="281.1" y2="156.08" stroke="#27306e" stroke-width="1.0"/>
<line x1="279" y1="154.73" x2="281.1" y2="154.73" stroke="#27306e" stroke-width="1.0"/>
<line x1="279" y1="153.56" x2="281.1" y2="153.56" stroke="#27306e" stroke-width="1.0"/>
<line x1="279" y1="152.52" x2="281.1" y2="152.52" stroke="#27306e" stroke-width="1.0"/>
<line x1="277.8" y1="171.8" x2="281.1" y2="171.8" stroke="#27306e" stroke-width="1.2"/>
<text x="275.9" y="175.8" font-size="10.4" fill="#27306e" text-anchor="end" font-weight="bold">10<tspan font-size="7" dy="-5.6">-10</tspan></text>
<line x1="279" y1="185.92" x2="281.1" y2="185.92" stroke="#27306e" stroke-width="1.0"/>
<line x1="279" y1="182.36" x2="281.1" y2="182.36" stroke="#27306e" stroke-width="1.0"/>
<line x1="279" y1="179.84" x2="281.1" y2="179.84" stroke="#27306e" stroke-width="1.0"/>
<line x1="279" y1="177.88" x2="281.1" y2="177.88" stroke="#27306e" stroke-width="1.0"/>
<line x1="279" y1="176.28" x2="281.1" y2="176.28" stroke="#27306e" stroke-width="1.0"/>
<line x1="279" y1="174.93" x2="281.1" y2="174.93" stroke="#27306e" stroke-width="1.0"/>
<line x1="279" y1="173.76" x2="281.1" y2="173.76" stroke="#27306e" stroke-width="1.0"/>
<line x1="279" y1="172.72" x2="281.1" y2="172.72" stroke="#27306e" stroke-width="1.0"/>
<line x1="277.8" y1="192" x2="281.1" y2="192" stroke="#27306e" stroke-width="1.2"/>
<text x="275.9" y="196" font-size="10.4" fill="#27306e" text-anchor="end" font-weight="bold">10<tspan font-size="7" dy="-5.6">-11</tspan></text>
<line x1="279" y1="206.12" x2="281.1" y2="206.12" stroke="#27306e" stroke-width="1.0"/>
<line x1="279" y1="202.56" x2="281.1" y2="202.56" stroke="#27306e" stroke-width="1.0"/>
<line x1="279" y1="200.04" x2="281.1" y2="200.04" stroke="#27306e" stroke-width="1.0"/>
<line x1="279" y1="198.08" x2="281.1" y2="198.08" stroke="#27306e" stroke-width="1.0"/>
<line x1="279" y1="196.48" x2="281.1" y2="196.48" stroke="#27306e" stroke-width="1.0"/>
<line x1="279" y1="195.13" x2="281.1" y2="195.13" stroke="#27306e" stroke-width="1.0"/>
<line x1="279" y1="193.96" x2="281.1" y2="193.96" stroke="#27306e" stroke-width="1.0"/>
<line x1="279" y1="192.92" x2="281.1" y2="192.92" stroke="#27306e" stroke-width="1.0"/>
<line x1="277.8" y1="212.2" x2="281.1" y2="212.2" stroke="#27306e" stroke-width="1.2"/>
<text x="275.9" y="216.2" font-size="10.4" fill="#27306e" text-anchor="end" font-weight="bold">10<tspan font-size="7" dy="-5.6">-12</tspan></text>
<text x="328" y="241.7" font-size="12" fill="#1f1a1b" font-weight="bold"><tspan font-style="italic">V</tspan><tspan font-size="8" dy="5.4">GS</tspan><tspan dy="-5.4">(V)</tspan></text>
<text transform="translate(248.1,136.3) rotate(-90)" font-size="13.5" fill="#27306e" font-weight="bold"><tspan font-style="italic">I</tspan><tspan font-size="8" dy="5.2">DS</tspan><tspan dy="-5.2"> (A)</tspan></text>
<text transform="translate(447.9,146) rotate(-90)" font-size="13.4" fill="#157580" font-weight="bold"><tspan font-style="italic">I</tspan><tspan font-size="8.4" dy="5.6">DS</tspan><tspan font-size="8.4" dy="-11.4">1/2</tspan><tspan dy="5.8"> (A</tspan><tspan font-size="8.4" dy="-5.8">1/2</tspan><tspan dy="5.8"> )</tspan></text>
<clipPath id="clipc"><rect x="512" y="10.2" width="126.5" height="201.5"/></clipPath>
<text x="462.5" y="16.5" font-size="22.5" fill="#1f1a1b" text-anchor="start" font-weight="bold" font-style="normal" >c</text>
<text x="517.3" y="21.9" font-size="10.3" fill="#1f1a1b" text-anchor="start" font-weight="bold" font-style="normal" >Hyb_2</text>
<g clip-path="url(#clipc)">
<polyline points="512.5,205.4 520.8,205.4 522.12,205.35 523.44,205.23 524.76,205.03 526.08,204.78 527.4,204.49 528.71,204.17 530.03,203.82 531.35,203.33 532.67,202.7 533.99,201.98 535.31,201.19 536.63,200.38 537.95,199.49 539.27,198.46 540.59,197.36 541.91,196.21 543.22,195.08 544.54,193.99 545.86,192.9 547.18,191.8 548.5,190.7 549.82,189.59 551.14,188.48 552.46,187.36 553.78,186.24 555.1,185.1 556.42,183.96 557.73,182.81 559.05,181.65 560.37,180.48 561.69,179.3 563.01,178.12 564.33,176.93 565.65,175.73 566.97,174.52 568.29,173.31 569.61,172.09 570.93,170.86 572.24,169.62 573.56,168.38 574.88,167.13 576.2,165.86 577.52,164.59 578.84,163.3 580.16,162.01 581.48,160.7 582.8,159.39 584.12,158.08 585.44,156.76 586.76,155.44 588.07,154.12 589.39,152.8 590.71,151.48 592.03,150.17 593.35,148.85 594.67,147.53 595.99,146.2 597.31,144.87 598.63,143.53 599.95,142.2 601.27,140.87 602.58,139.54 603.9,138.22 605.22,136.91 606.54,135.61 607.86,134.32 609.18,133.04 610.5,131.76 611.82,130.49 613.14,129.22 614.46,127.95 615.78,126.7 617.09,125.46 618.41,124.24 619.73,123.03 621.05,121.84 622.37,120.67 623.69,119.52 625.01,118.39 626.33,117.26 627.65,116.15 628.97,115.05 630.29,113.97 631.6,112.9 632.92,111.84 634.24,110.8 635.56,109.77 636.88,108.76 638.2,107.8" fill="none" stroke="#167d87" stroke-width="1.25" stroke-linejoin="round" />
<polyline points="512.5,205.4 520.8,205.4 522.12,205.35 523.44,205.23 524.76,205.03 526.08,204.78 527.4,204.49 528.71,204.17 530.03,203.82 531.35,203.33 532.67,202.7 533.99,201.97 535.31,201.19 536.63,200.38 537.95,199.51 539.27,198.52 540.59,197.46 541.91,196.37 543.22,195.27 544.54,194.2 545.86,193.12 547.18,192.02 548.5,190.92 549.82,189.81 551.14,188.69 552.46,187.56 553.78,186.42 555.1,185.28 556.42,184.14 557.73,183 559.05,181.86 560.37,180.72 561.69,179.57 563.01,178.43 564.33,177.28 565.65,176.12 566.97,174.96 568.29,173.8 569.61,172.62 570.93,171.44 572.24,170.25 573.56,169.04 574.88,167.83 576.2,166.6 577.52,165.35 578.84,164.09 580.16,162.81 581.48,161.52 582.8,160.23 584.12,158.94 585.44,157.64 586.76,156.35 588.07,155.07 589.39,153.79 590.71,152.53 592.03,151.28 593.35,150.05 594.67,148.83 595.99,147.61 597.31,146.41 598.63,145.21 599.95,144.01 601.27,142.81 602.58,141.61 603.9,140.41 605.22,139.21 606.54,138 607.86,136.79 609.18,135.56 610.5,134.33 611.82,133.09 613.14,131.84 614.46,130.59 615.78,129.34 617.09,128.09 618.41,126.85 619.73,125.61 621.05,124.38 622.37,123.16 623.69,121.96 625.01,120.78 626.33,119.61 627.65,118.45 628.97,117.29 630.29,116.12 631.6,114.93 632.92,113.73 634.24,112.49 635.56,111.23 636.88,109.91 638.2,108.5" fill="none" stroke="#167d87" stroke-width="1.25" stroke-linejoin="round" />
<polyline points="511.5,171.5 513.64,171.83 515.79,172.16 517.93,172.49 520.07,172.81 522.21,173.14 524.36,173.47 526.5,173.8 526.74,127.58 529.01,112.26 531.28,102.29 533.56,94.43 535.83,87.55 538.11,82.99 540.38,78.74 542.65,75.4 544.93,72.12 547.2,69.08 549.48,66.81 551.75,64.95 554.02,63.33 556.3,61.8 558.57,60.32 560.85,58.95 563.12,57.74 565.39,56.67 567.67,55.69 569.94,54.79 572.22,53.94 574.49,53.13 576.76,52.36 579.04,51.63 581.31,50.93 583.59,50.26 585.86,49.59 588.13,48.94 590.41,48.31 592.68,47.7 594.96,47.11 597.23,46.55 599.5,46.02 601.78,45.5 604.05,44.99 606.33,44.49 608.6,44.01 610.88,43.53 613.15,43.07 615.42,42.61 617.7,42.16 619.97,41.71 622.25,41.25 624.52,40.8 626.79,40.35 629.07,39.9 631.34,39.46 633.62,39.04 635.89,38.63 638.16,38.24" fill="none" stroke="#222a69" stroke-width="0.9" stroke-linejoin="round" />
<polyline points="513.8,178 515.78,179.46 517.76,180.92 519.74,182.38 521.72,183.84 523.7,185.3 525.6,135.4 527.87,116.53 530.15,105.9 532.42,98.07 534.7,90.12 536.97,84.7 539.24,80.24 541.52,76.51 543.79,73.27 546.07,70.02 548.34,67.36 550.61,65.34 552.89,63.62 555.16,62.06 557.44,60.55 559.71,59.12 561.98,57.82 564.26,56.69 566.53,55.67 568.81,54.74 571.08,53.86 573.35,53.03 575.63,52.24 577.9,51.49 580.18,50.78 582.45,50.09 584.72,49.42 587,48.76 589.27,48.12 591.55,47.5 593.82,46.9 596.09,46.33 598.37,45.78 600.64,45.25 602.92,44.74 605.19,44.24 607.46,43.75 609.74,43.27 612.01,42.8 614.29,42.34 616.56,41.88 618.83,41.43 621.11,40.98 623.38,40.53 625.66,40.07 627.93,39.62 630.2,39.18 632.48,38.75 634.75,38.33 637.03,37.93 639.3,37.55" fill="none" stroke="#222a69" stroke-width="0.9" stroke-linejoin="round" />
<use href="#tb" x="638.16" y="38.24"/>
<use href="#tb" x="635.89" y="38.63"/>
<use href="#tb" x="633.62" y="39.04"/>
<use href="#tb" x="631.34" y="39.46"/>
<use href="#tb" x="629.07" y="39.9"/>
<use href="#tb" x="626.79" y="40.35"/>
<use href="#tb" x="624.52" y="40.8"/>
<use href="#tb" x="622.25" y="41.25"/>
<use href="#tb" x="619.97" y="41.71"/>
<use href="#tb" x="617.7" y="42.16"/>
<use href="#tb" x="615.42" y="42.61"/>
<use href="#tb" x="613.15" y="43.07"/>
<use href="#tb" x="610.88" y="43.53"/>
<use href="#tb" x="608.6" y="44.01"/>
<use href="#tb" x="606.33" y="44.49"/>
<use href="#tb" x="604.05" y="44.99"/>
<use href="#tb" x="601.78" y="45.5"/>
<use href="#tb" x="599.5" y="46.02"/>
<use href="#tb" x="597.23" y="46.55"/>
<use href="#tb" x="594.96" y="47.11"/>
<use href="#tb" x="592.68" y="47.7"/>
<use href="#tb" x="590.41" y="48.31"/>
<use href="#tb" x="588.13" y="48.94"/>
<use href="#tb" x="585.86" y="49.59"/>
<use href="#tb" x="583.59" y="50.26"/>
<use href="#tb" x="581.31" y="50.93"/>
<use href="#tb" x="579.04" y="51.63"/>
<use href="#tb" x="576.76" y="52.36"/>
<use href="#tb" x="574.49" y="53.13"/>
<use href="#tb" x="572.22" y="53.94"/>
<use href="#tb" x="569.94" y="54.79"/>
<use href="#tb" x="567.67" y="55.69"/>
<use href="#tb" x="565.39" y="56.67"/>
<use href="#tb" x="563.12" y="57.74"/>
<use href="#tb" x="560.85" y="58.95"/>
<use href="#tb" x="558.57" y="60.32"/>
<use href="#tb" x="556.3" y="61.8"/>
<use href="#tb" x="554.02" y="63.33"/>
<use href="#tb" x="551.75" y="64.95"/>
<use href="#tb" x="549.48" y="66.81"/>
<use href="#tb" x="547.2" y="69.08"/>
<use href="#tb" x="544.93" y="72.12"/>
<use href="#tb" x="542.65" y="75.4"/>
<use href="#tb" x="540.38" y="78.74"/>
<use href="#tb" x="538.11" y="82.99"/>
<use href="#tb" x="535.83" y="87.55"/>
<use href="#tb" x="533.56" y="94.43"/>
<use href="#tb" x="531.28" y="102.29"/>
<use href="#tb" x="529.01" y="112.26"/>
<use href="#tb" x="526.74" y="127.58"/>
<use href="#tb" x="526.5" y="173.8"/>
<use href="#tb" x="524.36" y="173.47"/>
<use href="#tb" x="522.21" y="173.14"/>
<use href="#tb" x="520.07" y="172.81"/>
<use href="#tb" x="517.93" y="172.49"/>
<use href="#tb" x="515.79" y="172.16"/>
<use href="#tb" x="513.64" y="171.83"/>
<use href="#tb" x="511.5" y="171.5"/>
<use href="#th" x="526.74" y="127.58"/>
<use href="#th" x="529.01" y="112.26"/>
<use href="#th" x="531.28" y="102.29"/>
<use href="#th" x="533.56" y="94.43"/>
<use href="#th" x="535.83" y="87.55"/>
<use href="#th" x="538.11" y="82.99"/>
<use href="#th" x="540.38" y="78.74"/>
<use href="#th" x="542.65" y="75.4"/>
<use href="#th" x="544.93" y="72.12"/>
<use href="#th" x="547.2" y="69.08"/>
<use href="#th" x="549.48" y="66.81"/>
<use href="#th" x="551.75" y="64.95"/>
<use href="#th" x="554.02" y="63.33"/>
<use href="#th" x="556.3" y="61.8"/>
<use href="#th" x="558.57" y="60.32"/>
<use href="#th" x="560.85" y="58.95"/>
<use href="#th" x="563.12" y="57.74"/>
<use href="#th" x="565.39" y="56.67"/>
<use href="#th" x="567.67" y="55.69"/>
<use href="#th" x="569.94" y="54.79"/>
<use href="#th" x="572.22" y="53.94"/>
<use href="#th" x="574.49" y="53.13"/>
<use href="#th" x="576.76" y="52.36"/>
<use href="#th" x="579.04" y="51.63"/>
<use href="#th" x="581.31" y="50.93"/>
<use href="#th" x="583.59" y="50.26"/>
<use href="#th" x="585.86" y="49.59"/>
<use href="#th" x="588.13" y="48.94"/>
<use href="#th" x="590.41" y="48.31"/>
<use href="#th" x="592.68" y="47.7"/>
<use href="#th" x="594.96" y="47.11"/>
<use href="#th" x="597.23" y="46.55"/>
<use href="#th" x="599.5" y="46.02"/>
<use href="#th" x="601.78" y="45.5"/>
<use href="#th" x="604.05" y="44.99"/>
<use href="#th" x="606.33" y="44.49"/>
<use href="#th" x="608.6" y="44.01"/>
<use href="#th" x="610.88" y="43.53"/>
<use href="#th" x="613.15" y="43.07"/>
<use href="#th" x="615.42" y="42.61"/>
<use href="#th" x="617.7" y="42.16"/>
<use href="#th" x="619.97" y="41.71"/>
<use href="#th" x="622.25" y="41.25"/>
<use href="#th" x="624.52" y="40.8"/>
<use href="#th" x="626.79" y="40.35"/>
<use href="#th" x="629.07" y="39.9"/>
<use href="#th" x="631.34" y="39.46"/>
<use href="#th" x="633.62" y="39.04"/>
<use href="#th" x="635.89" y="38.63"/>
<use href="#th" x="638.16" y="38.24"/>
<use href="#tb" x="513.8" y="178"/>
<use href="#tb" x="515.78" y="179.46"/>
<use href="#tb" x="517.76" y="180.92"/>
<use href="#tb" x="519.74" y="182.38"/>
<use href="#tb" x="521.72" y="183.84"/>
<use href="#tb" x="523.7" y="185.3"/>
<use href="#tb" x="525.6" y="135.4"/>
<use href="#tb" x="527.87" y="116.53"/>
<use href="#tb" x="530.15" y="105.9"/>
<use href="#tb" x="532.42" y="98.07"/>
<use href="#tb" x="534.7" y="90.12"/>
<use href="#tb" x="536.97" y="84.7"/>
<use href="#tb" x="539.24" y="80.24"/>
<use href="#tb" x="541.52" y="76.51"/>
<use href="#tb" x="543.79" y="73.27"/>
<use href="#tb" x="546.07" y="70.02"/>
<use href="#tb" x="548.34" y="67.36"/>
<use href="#tb" x="550.61" y="65.34"/>
<use href="#tb" x="552.89" y="63.62"/>
<use href="#tb" x="555.16" y="62.06"/>
<use href="#tb" x="557.44" y="60.55"/>
<use href="#tb" x="559.71" y="59.12"/>
<use href="#tb" x="561.98" y="57.82"/>
<use href="#tb" x="564.26" y="56.69"/>
<use href="#tb" x="566.53" y="55.67"/>
<use href="#tb" x="568.81" y="54.74"/>
<use href="#tb" x="571.08" y="53.86"/>
<use href="#tb" x="573.35" y="53.03"/>
<use href="#tb" x="575.63" y="52.24"/>
<use href="#tb" x="577.9" y="51.49"/>
<use href="#tb" x="580.18" y="50.78"/>
<use href="#tb" x="582.45" y="50.09"/>
<use href="#tb" x="584.72" y="49.42"/>
<use href="#tb" x="587" y="48.76"/>
<use href="#tb" x="589.27" y="48.12"/>
<use href="#tb" x="591.55" y="47.5"/>
<use href="#tb" x="593.82" y="46.9"/>
<use href="#tb" x="596.09" y="46.33"/>
<use href="#tb" x="598.37" y="45.78"/>
<use href="#tb" x="600.64" y="45.25"/>
<use href="#tb" x="602.92" y="44.74"/>
<use href="#tb" x="605.19" y="44.24"/>
<use href="#tb" x="607.46" y="43.75"/>
<use href="#tb" x="609.74" y="43.27"/>
<use href="#tb" x="612.01" y="42.8"/>
<use href="#tb" x="614.29" y="42.34"/>
<use href="#tb" x="616.56" y="41.88"/>
<use href="#tb" x="618.83" y="41.43"/>
<use href="#tb" x="621.11" y="40.98"/>
<use href="#tb" x="623.38" y="40.53"/>
<use href="#tb" x="625.66" y="40.07"/>
<use href="#tb" x="627.93" y="39.62"/>
<use href="#tb" x="630.2" y="39.18"/>
<use href="#tb" x="632.48" y="38.75"/>
<use href="#tb" x="634.75" y="38.33"/>
<use href="#tb" x="637.03" y="37.93"/>
<use href="#tb" x="639.3" y="37.55"/>
<use href="#th" x="513.8" y="178"/>
<use href="#th" x="515.78" y="179.46"/>
<use href="#th" x="517.76" y="180.92"/>
<use href="#th" x="519.74" y="182.38"/>
<use href="#th" x="521.72" y="183.84"/>
<use href="#th" x="523.7" y="185.3"/>
<use href="#th" x="525.6" y="135.4"/>
<use href="#th" x="527.87" y="116.53"/>
<use href="#th" x="530.15" y="105.9"/>
<use href="#th" x="532.42" y="98.07"/>
<use href="#th" x="534.7" y="90.12"/>
<use href="#th" x="536.97" y="84.7"/>
<use href="#th" x="539.24" y="80.24"/>
<use href="#th" x="541.52" y="76.51"/>
<use href="#th" x="543.79" y="73.27"/>
<use href="#th" x="546.07" y="70.02"/>
<use href="#th" x="548.34" y="67.36"/>
<use href="#th" x="550.61" y="65.34"/>
<use href="#th" x="552.89" y="63.62"/>
<use href="#th" x="555.16" y="62.06"/>
<use href="#th" x="557.44" y="60.55"/>
<use href="#th" x="559.71" y="59.12"/>
<use href="#th" x="561.98" y="57.82"/>
<use href="#th" x="564.26" y="56.69"/>
<use href="#th" x="566.53" y="55.67"/>
<use href="#th" x="568.81" y="54.74"/>
<use href="#th" x="571.08" y="53.86"/>
<use href="#th" x="573.35" y="53.03"/>
<use href="#th" x="575.63" y="52.24"/>
<use href="#th" x="577.9" y="51.49"/>
<use href="#th" x="580.18" y="50.78"/>
<use href="#th" x="582.45" y="50.09"/>
<use href="#th" x="584.72" y="49.42"/>
<use href="#th" x="587" y="48.76"/>
<use href="#th" x="589.27" y="48.12"/>
<use href="#th" x="591.55" y="47.5"/>
<use href="#th" x="593.82" y="46.9"/>
<use href="#th" x="596.09" y="46.33"/>
<use href="#th" x="598.37" y="45.78"/>
<use href="#th" x="600.64" y="45.25"/>
<use href="#th" x="602.92" y="44.74"/>
<use href="#th" x="605.19" y="44.24"/>
<use href="#th" x="607.46" y="43.75"/>
<use href="#th" x="609.74" y="43.27"/>
<use href="#th" x="612.01" y="42.8"/>
<use href="#th" x="614.29" y="42.34"/>
<use href="#th" x="616.56" y="41.88"/>
<use href="#th" x="618.83" y="41.43"/>
<use href="#th" x="621.11" y="40.98"/>
<use href="#th" x="623.38" y="40.53"/>
<use href="#th" x="625.66" y="40.07"/>
<use href="#th" x="627.93" y="39.62"/>
<use href="#th" x="630.2" y="39.18"/>
<use href="#th" x="632.48" y="38.75"/>
<use href="#th" x="634.75" y="38.33"/>
<use href="#th" x="637.03" y="37.93"/>
<use href="#th" x="639.3" y="37.55"/>
</g>
<line x1="536.8" y1="68.6" x2="552.87" y2="55.11" stroke="#1f1a1b" stroke-width="1.15"/>
<polygon points="556.7,51.9 553.97,57.2 551.01,53.67" fill="#1f1a1b"/>
<line x1="582.6" y1="57.8" x2="566.17" y2="69.5" stroke="#1f1a1b" stroke-width="1.15"/>
<polygon points="562.1,72.4 565.25,67.34 567.91,71.08" fill="#1f1a1b"/>
<line x1="512" y1="10.2" x2="638.5" y2="10.2" stroke="#2e2829" stroke-width="1.2"/>
<line x1="511.1" y1="211.7" x2="638.5" y2="211.7" stroke="#4a4343" stroke-width="1.2"/>
<line x1="513.53" y1="211.7" x2="513.53" y2="214.3" stroke="#4a4343" stroke-width="1.1"/>
<line x1="524.9" y1="211.7" x2="524.9" y2="215.9" stroke="#4a4343" stroke-width="1.1"/>
<text x="524.9" y="226.8" font-size="11" fill="#1f1a1b" text-anchor="middle" font-weight="bold" font-style="normal" >0</text>
<line x1="536.27" y1="211.7" x2="536.27" y2="214.3" stroke="#4a4343" stroke-width="1.1"/>
<line x1="547.64" y1="211.7" x2="547.64" y2="215.9" stroke="#4a4343" stroke-width="1.1"/>
<text x="547.64" y="226.8" font-size="11" fill="#1f1a1b" text-anchor="middle" font-weight="bold" font-style="normal" >2</text>
<line x1="559.01" y1="211.7" x2="559.01" y2="214.3" stroke="#4a4343" stroke-width="1.1"/>
<line x1="570.38" y1="211.7" x2="570.38" y2="215.9" stroke="#4a4343" stroke-width="1.1"/>
<text x="570.38" y="226.8" font-size="11" fill="#1f1a1b" text-anchor="middle" font-weight="bold" font-style="normal" >4</text>
<line x1="581.75" y1="211.7" x2="581.75" y2="214.3" stroke="#4a4343" stroke-width="1.1"/>
<line x1="593.12" y1="211.7" x2="593.12" y2="215.9" stroke="#4a4343" stroke-width="1.1"/>
<text x="593.12" y="226.8" font-size="11" fill="#1f1a1b" text-anchor="middle" font-weight="bold" font-style="normal" >6</text>
<line x1="604.49" y1="211.7" x2="604.49" y2="214.3" stroke="#4a4343" stroke-width="1.1"/>
<line x1="615.86" y1="211.7" x2="615.86" y2="215.9" stroke="#4a4343" stroke-width="1.1"/>
<text x="615.86" y="226.8" font-size="11" fill="#1f1a1b" text-anchor="middle" font-weight="bold" font-style="normal" >8</text>
<line x1="627.23" y1="211.7" x2="627.23" y2="214.3" stroke="#4a4343" stroke-width="1.1"/>
<line x1="638.6" y1="211.7" x2="638.6" y2="215.9" stroke="#4a4343" stroke-width="1.1"/>
<text x="638.6" y="226.8" font-size="11" fill="#1f1a1b" text-anchor="middle" font-weight="bold" font-style="normal" >10</text>
<line x1="638.5" y1="9.8" x2="638.5" y2="212.2" stroke="#167d87" stroke-width="1.2"/>
<line x1="634" y1="9.8" x2="638.5" y2="9.8" stroke="#167d87" stroke-width="1.1"/>
<text x="642.7" y="13.5" font-size="10.8" fill="#157580" text-anchor="start" font-weight="bold" font-style="normal" >0.04</text>
<line x1="634" y1="59" x2="638.5" y2="59" stroke="#167d87" stroke-width="1.1"/>
<text x="642.7" y="62.7" font-size="10.8" fill="#157580" text-anchor="start" font-weight="bold" font-style="normal" >0.03</text>
<line x1="634" y1="108.2" x2="638.5" y2="108.2" stroke="#167d87" stroke-width="1.1"/>
<text x="642.7" y="111.9" font-size="10.8" fill="#157580" text-anchor="start" font-weight="bold" font-style="normal" >0.02</text>
<line x1="634" y1="157.4" x2="638.5" y2="157.4" stroke="#167d87" stroke-width="1.1"/>
<text x="642.7" y="161.1" font-size="10.8" fill="#157580" text-anchor="start" font-weight="bold" font-style="normal" >0.01</text>
<line x1="634" y1="206.6" x2="638.5" y2="206.6" stroke="#167d87" stroke-width="1.1"/>
<text x="642.7" y="210.3" font-size="10.8" fill="#157580" text-anchor="start" font-weight="bold" font-style="normal" >0.00</text>
<line x1="635.5" y1="34.4" x2="638.5" y2="34.4" stroke="#167d87" stroke-width="1.0"/>
<line x1="635.5" y1="83.6" x2="638.5" y2="83.6" stroke="#167d87" stroke-width="1.0"/>
<line x1="635.5" y1="132.8" x2="638.5" y2="132.8" stroke="#167d87" stroke-width="1.0"/>
<line x1="635.5" y1="182" x2="638.5" y2="182" stroke="#167d87" stroke-width="1.0"/>
<line x1="512" y1="9.6" x2="512" y2="212.3" stroke="#27306e" stroke-width="1.9"/>
<line x1="508.7" y1="10.2" x2="512" y2="10.2" stroke="#27306e" stroke-width="1.2"/>
<text x="506.8" y="14.2" font-size="10.4" fill="#27306e" text-anchor="end" font-weight="bold">10<tspan font-size="7" dy="-5.6">-2</tspan></text>
<line x1="509.9" y1="24.32" x2="512" y2="24.32" stroke="#27306e" stroke-width="1.0"/>
<line x1="509.9" y1="20.76" x2="512" y2="20.76" stroke="#27306e" stroke-width="1.0"/>
<line x1="509.9" y1="18.24" x2="512" y2="18.24" stroke="#27306e" stroke-width="1.0"/>
<line x1="509.9" y1="16.28" x2="512" y2="16.28" stroke="#27306e" stroke-width="1.0"/>
<line x1="509.9" y1="14.68" x2="512" y2="14.68" stroke="#27306e" stroke-width="1.0"/>
<line x1="509.9" y1="13.33" x2="512" y2="13.33" stroke="#27306e" stroke-width="1.0"/>
<line x1="509.9" y1="12.16" x2="512" y2="12.16" stroke="#27306e" stroke-width="1.0"/>
<line x1="509.9" y1="11.12" x2="512" y2="11.12" stroke="#27306e" stroke-width="1.0"/>
<line x1="508.7" y1="30.4" x2="512" y2="30.4" stroke="#27306e" stroke-width="1.2"/>
<text x="506.8" y="34.4" font-size="10.4" fill="#27306e" text-anchor="end" font-weight="bold">10<tspan font-size="7" dy="-5.6">-3</tspan></text>
<line x1="509.9" y1="44.52" x2="512" y2="44.52" stroke="#27306e" stroke-width="1.0"/>
<line x1="509.9" y1="40.96" x2="512" y2="40.96" stroke="#27306e" stroke-width="1.0"/>
<line x1="509.9" y1="38.44" x2="512" y2="38.44" stroke="#27306e" stroke-width="1.0"/>
<line x1="509.9" y1="36.48" x2="512" y2="36.48" stroke="#27306e" stroke-width="1.0"/>
<line x1="509.9" y1="34.88" x2="512" y2="34.88" stroke="#27306e" stroke-width="1.0"/>
<line x1="509.9" y1="33.53" x2="512" y2="33.53" stroke="#27306e" stroke-width="1.0"/>
<line x1="509.9" y1="32.36" x2="512" y2="32.36" stroke="#27306e" stroke-width="1.0"/>
<line x1="509.9" y1="31.32" x2="512" y2="31.32" stroke="#27306e" stroke-width="1.0"/>
<line x1="508.7" y1="50.6" x2="512" y2="50.6" stroke="#27306e" stroke-width="1.2"/>
<text x="506.8" y="54.6" font-size="10.4" fill="#27306e" text-anchor="end" font-weight="bold">10<tspan font-size="7" dy="-5.6">-4</tspan></text>
<line x1="509.9" y1="64.72" x2="512" y2="64.72" stroke="#27306e" stroke-width="1.0"/>
<line x1="509.9" y1="61.16" x2="512" y2="61.16" stroke="#27306e" stroke-width="1.0"/>
<line x1="509.9" y1="58.64" x2="512" y2="58.64" stroke="#27306e" stroke-width="1.0"/>
<line x1="509.9" y1="56.68" x2="512" y2="56.68" stroke="#27306e" stroke-width="1.0"/>
<line x1="509.9" y1="55.08" x2="512" y2="55.08" stroke="#27306e" stroke-width="1.0"/>
<line x1="509.9" y1="53.73" x2="512" y2="53.73" stroke="#27306e" stroke-width="1.0"/>
<line x1="509.9" y1="52.56" x2="512" y2="52.56" stroke="#27306e" stroke-width="1.0"/>
<line x1="509.9" y1="51.52" x2="512" y2="51.52" stroke="#27306e" stroke-width="1.0"/>
<line x1="508.7" y1="70.8" x2="512" y2="70.8" stroke="#27306e" stroke-width="1.2"/>
<text x="506.8" y="74.8" font-size="10.4" fill="#27306e" text-anchor="end" font-weight="bold">10<tspan font-size="7" dy="-5.6">-5</tspan></text>
<line x1="509.9" y1="84.92" x2="512" y2="84.92" stroke="#27306e" stroke-width="1.0"/>
<line x1="509.9" y1="81.36" x2="512" y2="81.36" stroke="#27306e" stroke-width="1.0"/>
<line x1="509.9" y1="78.84" x2="512" y2="78.84" stroke="#27306e" stroke-width="1.0"/>
<line x1="509.9" y1="76.88" x2="512" y2="76.88" stroke="#27306e" stroke-width="1.0"/>
<line x1="509.9" y1="75.28" x2="512" y2="75.28" stroke="#27306e" stroke-width="1.0"/>
<line x1="509.9" y1="73.93" x2="512" y2="73.93" stroke="#27306e" stroke-width="1.0"/>
<line x1="509.9" y1="72.76" x2="512" y2="72.76" stroke="#27306e" stroke-width="1.0"/>
<line x1="509.9" y1="71.72" x2="512" y2="71.72" stroke="#27306e" stroke-width="1.0"/>
<line x1="508.7" y1="91" x2="512" y2="91" stroke="#27306e" stroke-width="1.2"/>
<text x="506.8" y="95" font-size="10.4" fill="#27306e" text-anchor="end" font-weight="bold">10<tspan font-size="7" dy="-5.6">-6</tspan></text>
<line x1="509.9" y1="105.12" x2="512" y2="105.12" stroke="#27306e" stroke-width="1.0"/>
<line x1="509.9" y1="101.56" x2="512" y2="101.56" stroke="#27306e" stroke-width="1.0"/>
<line x1="509.9" y1="99.04" x2="512" y2="99.04" stroke="#27306e" stroke-width="1.0"/>
<line x1="509.9" y1="97.08" x2="512" y2="97.08" stroke="#27306e" stroke-width="1.0"/>
<line x1="509.9" y1="95.48" x2="512" y2="95.48" stroke="#27306e" stroke-width="1.0"/>
<line x1="509.9" y1="94.13" x2="512" y2="94.13" stroke="#27306e" stroke-width="1.0"/>
<line x1="509.9" y1="92.96" x2="512" y2="92.96" stroke="#27306e" stroke-width="1.0"/>
<line x1="509.9" y1="91.92" x2="512" y2="91.92" stroke="#27306e" stroke-width="1.0"/>
<line x1="508.7" y1="111.2" x2="512" y2="111.2" stroke="#27306e" stroke-width="1.2"/>
<text x="506.8" y="115.2" font-size="10.4" fill="#27306e" text-anchor="end" font-weight="bold">10<tspan font-size="7" dy="-5.6">-7</tspan></text>
<line x1="509.9" y1="125.32" x2="512" y2="125.32" stroke="#27306e" stroke-width="1.0"/>
<line x1="509.9" y1="121.76" x2="512" y2="121.76" stroke="#27306e" stroke-width="1.0"/>
<line x1="509.9" y1="119.24" x2="512" y2="119.24" stroke="#27306e" stroke-width="1.0"/>
<line x1="509.9" y1="117.28" x2="512" y2="117.28" stroke="#27306e" stroke-width="1.0"/>
<line x1="509.9" y1="115.68" x2="512" y2="115.68" stroke="#27306e" stroke-width="1.0"/>
<line x1="509.9" y1="114.33" x2="512" y2="114.33" stroke="#27306e" stroke-width="1.0"/>
<line x1="509.9" y1="113.16" x2="512" y2="113.16" stroke="#27306e" stroke-width="1.0"/>
<line x1="509.9" y1="112.12" x2="512" y2="112.12" stroke="#27306e" stroke-width="1.0"/>
<line x1="508.7" y1="131.4" x2="512" y2="131.4" stroke="#27306e" stroke-width="1.2"/>
<text x="506.8" y="135.4" font-size="10.4" fill="#27306e" text-anchor="end" font-weight="bold">10<tspan font-size="7" dy="-5.6">-8</tspan></text>
<line x1="509.9" y1="145.52" x2="512" y2="145.52" stroke="#27306e" stroke-width="1.0"/>
<line x1="509.9" y1="141.96" x2="512" y2="141.96" stroke="#27306e" stroke-width="1.0"/>
<line x1="509.9" y1="139.44" x2="512" y2="139.44" stroke="#27306e" stroke-width="1.0"/>
<line x1="509.9" y1="137.48" x2="512" y2="137.48" stroke="#27306e" stroke-width="1.0"/>
<line x1="509.9" y1="135.88" x2="512" y2="135.88" stroke="#27306e" stroke-width="1.0"/>
<line x1="509.9" y1="134.53" x2="512" y2="134.53" stroke="#27306e" stroke-width="1.0"/>
<line x1="509.9" y1="133.36" x2="512" y2="133.36" stroke="#27306e" stroke-width="1.0"/>
<line x1="509.9" y1="132.32" x2="512" y2="132.32" stroke="#27306e" stroke-width="1.0"/>
<line x1="508.7" y1="151.6" x2="512" y2="151.6" stroke="#27306e" stroke-width="1.2"/>
<text x="506.8" y="155.6" font-size="10.4" fill="#27306e" text-anchor="end" font-weight="bold">10<tspan font-size="7" dy="-5.6">-9</tspan></text>
<line x1="509.9" y1="165.72" x2="512" y2="165.72" stroke="#27306e" stroke-width="1.0"/>
<line x1="509.9" y1="162.16" x2="512" y2="162.16" stroke="#27306e" stroke-width="1.0"/>
<line x1="509.9" y1="159.64" x2="512" y2="159.64" stroke="#27306e" stroke-width="1.0"/>
<line x1="509.9" y1="157.68" x2="512" y2="157.68" stroke="#27306e" stroke-width="1.0"/>
<line x1="509.9" y1="156.08" x2="512" y2="156.08" stroke="#27306e" stroke-width="1.0"/>
<line x1="509.9" y1="154.73" x2="512" y2="154.73" stroke="#27306e" stroke-width="1.0"/>
<line x1="509.9" y1="153.56" x2="512" y2="153.56" stroke="#27306e" stroke-width="1.0"/>
<line x1="509.9" y1="152.52" x2="512" y2="152.52" stroke="#27306e" stroke-width="1.0"/>
<line x1="508.7" y1="171.8" x2="512" y2="171.8" stroke="#27306e" stroke-width="1.2"/>
<text x="506.8" y="175.8" font-size="10.4" fill="#27306e" text-anchor="end" font-weight="bold">10<tspan font-size="7" dy="-5.6">-10</tspan></text>
<line x1="509.9" y1="185.92" x2="512" y2="185.92" stroke="#27306e" stroke-width="1.0"/>
<line x1="509.9" y1="182.36" x2="512" y2="182.36" stroke="#27306e" stroke-width="1.0"/>
<line x1="509.9" y1="179.84" x2="512" y2="179.84" stroke="#27306e" stroke-width="1.0"/>
<line x1="509.9" y1="177.88" x2="512" y2="177.88" stroke="#27306e" stroke-width="1.0"/>
<line x1="509.9" y1="176.28" x2="512" y2="176.28" stroke="#27306e" stroke-width="1.0"/>
<line x1="509.9" y1="174.93" x2="512" y2="174.93" stroke="#27306e" stroke-width="1.0"/>
<line x1="509.9" y1="173.76" x2="512" y2="173.76" stroke="#27306e" stroke-width="1.0"/>
<line x1="509.9" y1="172.72" x2="512" y2="172.72" stroke="#27306e" stroke-width="1.0"/>
<line x1="508.7" y1="192" x2="512" y2="192" stroke="#27306e" stroke-width="1.2"/>
<text x="506.8" y="196" font-size="10.4" fill="#27306e" text-anchor="end" font-weight="bold">10<tspan font-size="7" dy="-5.6">-11</tspan></text>
<line x1="509.9" y1="206.12" x2="512" y2="206.12" stroke="#27306e" stroke-width="1.0"/>
<line x1="509.9" y1="202.56" x2="512" y2="202.56" stroke="#27306e" stroke-width="1.0"/>
<line x1="509.9" y1="200.04" x2="512" y2="200.04" stroke="#27306e" stroke-width="1.0"/>
<line x1="509.9" y1="198.08" x2="512" y2="198.08" stroke="#27306e" stroke-width="1.0"/>
<line x1="509.9" y1="196.48" x2="512" y2="196.48" stroke="#27306e" stroke-width="1.0"/>
<line x1="509.9" y1="195.13" x2="512" y2="195.13" stroke="#27306e" stroke-width="1.0"/>
<line x1="509.9" y1="193.96" x2="512" y2="193.96" stroke="#27306e" stroke-width="1.0"/>
<line x1="509.9" y1="192.92" x2="512" y2="192.92" stroke="#27306e" stroke-width="1.0"/>
<line x1="508.7" y1="212.2" x2="512" y2="212.2" stroke="#27306e" stroke-width="1.2"/>
<text x="506.8" y="216.2" font-size="10.4" fill="#27306e" text-anchor="end" font-weight="bold">10<tspan font-size="7" dy="-5.6">-12</tspan></text>
<text x="558.9" y="241.7" font-size="12" fill="#1f1a1b" font-weight="bold"><tspan font-style="italic">V</tspan><tspan font-size="8" dy="5.4">GS</tspan><tspan dy="-5.4">(V)</tspan></text>
<text transform="translate(479,136.3) rotate(-90)" font-size="13.5" fill="#27306e" font-weight="bold"><tspan font-style="italic">I</tspan><tspan font-size="8" dy="5.2">DS</tspan><tspan dy="-5.2"> (A)</tspan></text>
<text transform="translate(678.8,146) rotate(-90)" font-size="13.4" fill="#157580" font-weight="bold"><tspan font-style="italic">I</tspan><tspan font-size="8.4" dy="5.6">DS</tspan><tspan font-size="8.4" dy="-11.4">1/2</tspan><tspan dy="5.8"> (A</tspan><tspan font-size="8.4" dy="-5.8">1/2</tspan><tspan dy="5.8"> )</tspan></text>
<defs>
<g id="bd0"><circle r="2.28" fill="#1c1a1b"/><ellipse cx="-0.35" cy="-0.6" rx="0.68" ry="0.6" fill="#9a9a9a"/></g>
<g id="bd1"><circle r="2.28" fill="#e5121e"/><ellipse cx="-0.35" cy="-0.6" rx="0.68" ry="0.6" fill="#ffd0d0"/></g>
<g id="bd2"><circle r="2.28" fill="#a39440"/><ellipse cx="-0.35" cy="-0.6" rx="0.68" ry="0.6" fill="#e8e0b0"/></g>
<g id="bd3"><circle r="2.28" fill="#1b7f8f"/><ellipse cx="-0.35" cy="-0.6" rx="0.68" ry="0.6" fill="#b0dde0"/></g>
<g id="bd4"><circle r="2.28" fill="#232b6b"/><ellipse cx="-0.35" cy="-0.6" rx="0.68" ry="0.6" fill="#b8bad6"/></g>
</defs>
<text x="0" y="273.5" font-size="23" fill="#1f1a1b" text-anchor="start" font-weight="bold" font-style="normal" >d</text>
<polyline points="36.4,383.8 40.39,378.61 44.38,373.48 48.38,368.35 52.37,363.4 56.36,358.8 60.35,354.45 64.35,350.32 68.34,346.39 72.33,342.6 76.32,339.05 80.32,335.81 84.31,332.76 88.3,329.8 92.29,327.04 96.29,324.53 100.28,322.2 104.27,319.89 108.26,317.84 112.26,316.26 116.25,314.86 120.24,313.49 124.23,312.2 128.23,310.98 132.22,309.86 136.21,308.88 140.2,308.01 144.2,307.21 148.19,306.47 152.18,305.79 156.17,305.18 160.17,304.7 164.16,304.3 168.15,303.98 172.15,303.73 176.14,303.54 180.13,303.41 184.12,303.32 188.11,303.24 192.11,303.19 196.1,303.17" fill="none" stroke="#27306e" stroke-width="0.8" stroke-linejoin="round" />
<use href="#bd4" x="36.4" y="383.8"/>
<use href="#bd4" x="40.39" y="378.61"/>
<use href="#bd4" x="44.38" y="373.48"/>
<use href="#bd4" x="48.38" y="368.35"/>
<use href="#bd4" x="52.37" y="363.4"/>
<use href="#bd4" x="56.36" y="358.8"/>
<use href="#bd4" x="60.35" y="354.45"/>
<use href="#bd4" x="64.35" y="350.32"/>
<use href="#bd4" x="68.34" y="346.39"/>
<use href="#bd4" x="72.33" y="342.6"/>
<use href="#bd4" x="76.32" y="339.05"/>
<use href="#bd4" x="80.32" y="335.81"/>
<use href="#bd4" x="84.31" y="332.76"/>
<use href="#bd4" x="88.3" y="329.8"/>
<use href="#bd4" x="92.29" y="327.04"/>
<use href="#bd4" x="96.29" y="324.53"/>
<use href="#bd4" x="100.28" y="322.2"/>
<use href="#bd4" x="104.27" y="319.89"/>
<use href="#bd4" x="108.26" y="317.84"/>
<use href="#bd4" x="112.26" y="316.26"/>
<use href="#bd4" x="116.25" y="314.86"/>
<use href="#bd4" x="120.24" y="313.49"/>
<use href="#bd4" x="124.23" y="312.2"/>
<use href="#bd4" x="128.23" y="310.98"/>
<use href="#bd4" x="132.22" y="309.86"/>
<use href="#bd4" x="136.21" y="308.88"/>
<use href="#bd4" x="140.2" y="308.01"/>
<use href="#bd4" x="144.2" y="307.21"/>
<use href="#bd4" x="148.19" y="306.47"/>
<use href="#bd4" x="152.18" y="305.79"/>
<use href="#bd4" x="156.17" y="305.18"/>
<use href="#bd4" x="160.17" y="304.7"/>
<use href="#bd4" x="164.16" y="304.3"/>
<use href="#bd4" x="168.15" y="303.98"/>
<use href="#bd4" x="172.15" y="303.73"/>
<use href="#bd4" x="176.14" y="303.54"/>
<use href="#bd4" x="180.13" y="303.41"/>
<use href="#bd4" x="184.12" y="303.32"/>
<use href="#bd4" x="188.11" y="303.24"/>
<use href="#bd4" x="192.11" y="303.19"/>
<use href="#bd4" x="196.1" y="303.17"/>
<polyline points="36.4,383.8 40.39,380.4 44.38,377.05 48.38,373.82 52.37,370.73 56.36,367.84 60.35,365.15 64.35,362.7 68.34,360.49 72.33,358.52 76.32,356.77 80.32,355.23 84.31,353.9 88.3,352.74 92.29,351.75 96.29,350.9 100.28,350.17 104.27,349.55 108.26,349.03 112.26,348.59 116.25,348.22 120.24,347.9 124.23,347.64 128.23,347.42 132.22,347.23 136.21,347.08 140.2,346.95 144.2,346.84 148.19,346.75 152.18,346.67 156.17,346.61 160.17,346.56 164.16,346.51 168.15,346.48 172.15,346.45 176.14,346.42 180.13,346.4 184.12,346.38 188.11,346.37 192.11,346.35 196.1,346.34" fill="none" stroke="#1e8a98" stroke-width="0.8" stroke-linejoin="round" />
<use href="#bd3" x="36.4" y="383.8"/>
<use href="#bd3" x="40.39" y="380.4"/>
<use href="#bd3" x="44.38" y="377.05"/>
<use href="#bd3" x="48.38" y="373.82"/>
<use href="#bd3" x="52.37" y="370.73"/>
<use href="#bd3" x="56.36" y="367.84"/>
<use href="#bd3" x="60.35" y="365.15"/>
<use href="#bd3" x="64.35" y="362.7"/>
<use href="#bd3" x="68.34" y="360.49"/>
<use href="#bd3" x="72.33" y="358.52"/>
<use href="#bd3" x="76.32" y="356.77"/>
<use href="#bd3" x="80.32" y="355.23"/>
<use href="#bd3" x="84.31" y="353.9"/>
<use href="#bd3" x="88.3" y="352.74"/>
<use href="#bd3" x="92.29" y="351.75"/>
<use href="#bd3" x="96.29" y="350.9"/>
<use href="#bd3" x="100.28" y="350.17"/>
<use href="#bd3" x="104.27" y="349.55"/>
<use href="#bd3" x="108.26" y="349.03"/>
<use href="#bd3" x="112.26" y="348.59"/>
<use href="#bd3" x="116.25" y="348.22"/>
<use href="#bd3" x="120.24" y="347.9"/>
<use href="#bd3" x="124.23" y="347.64"/>
<use href="#bd3" x="128.23" y="347.42"/>
<use href="#bd3" x="132.22" y="347.23"/>
<use href="#bd3" x="136.21" y="347.08"/>
<use href="#bd3" x="140.2" y="346.95"/>
<use href="#bd3" x="144.2" y="346.84"/>
<use href="#bd3" x="148.19" y="346.75"/>
<use href="#bd3" x="152.18" y="346.67"/>
<use href="#bd3" x="156.17" y="346.61"/>
<use href="#bd3" x="160.17" y="346.56"/>
<use href="#bd3" x="164.16" y="346.51"/>
<use href="#bd3" x="168.15" y="346.48"/>
<use href="#bd3" x="172.15" y="346.45"/>
<use href="#bd3" x="176.14" y="346.42"/>
<use href="#bd3" x="180.13" y="346.4"/>
<use href="#bd3" x="184.12" y="346.38"/>
<use href="#bd3" x="188.11" y="346.37"/>
<use href="#bd3" x="192.11" y="346.35"/>
<use href="#bd3" x="196.1" y="346.34"/>
<polyline points="36.4,383.8 40.39,381.94 44.38,380.15 48.38,378.49 52.37,377 56.36,375.7 60.35,374.61 64.35,373.7 68.34,372.96 72.33,372.37 76.32,371.9 80.32,371.54 84.31,371.25 88.3,371.03 92.29,370.86 96.29,370.74 100.28,370.64 104.27,370.56 108.26,370.5 112.26,370.46 116.25,370.43 120.24,370.4 124.23,370.38 128.23,370.37 132.22,370.36 136.21,370.35 140.2,370.34 144.2,370.34 148.19,370.34 152.18,370.33 156.17,370.33 160.17,370.33 164.16,370.33 168.15,370.33 172.15,370.33 176.14,370.33 180.13,370.33 184.12,370.32 188.11,370.32 192.11,370.32 196.1,370.32" fill="none" stroke="#9fd6d8" stroke-width="0.8" stroke-linejoin="round" />
<use href="#bd2" x="36.4" y="383.8"/>
<use href="#bd2" x="40.39" y="381.94"/>
<use href="#bd2" x="44.38" y="380.15"/>
<use href="#bd2" x="48.38" y="378.49"/>
<use href="#bd2" x="52.37" y="377"/>
<use href="#bd2" x="56.36" y="375.7"/>
<use href="#bd2" x="60.35" y="374.61"/>
<use href="#bd2" x="64.35" y="373.7"/>
<use href="#bd2" x="68.34" y="372.96"/>
<use href="#bd2" x="72.33" y="372.37"/>
<use href="#bd2" x="76.32" y="371.9"/>
<use href="#bd2" x="80.32" y="371.54"/>
<use href="#bd2" x="84.31" y="371.25"/>
<use href="#bd2" x="88.3" y="371.03"/>
<use href="#bd2" x="92.29" y="370.86"/>
<use href="#bd2" x="96.29" y="370.74"/>
<use href="#bd2" x="100.28" y="370.64"/>
<use href="#bd2" x="104.27" y="370.56"/>
<use href="#bd2" x="108.26" y="370.5"/>
<use href="#bd2" x="112.26" y="370.46"/>
<use href="#bd2" x="116.25" y="370.43"/>
<use href="#bd2" x="120.24" y="370.4"/>
<use href="#bd2" x="124.23" y="370.38"/>
<use href="#bd2" x="128.23" y="370.37"/>
<use href="#bd2" x="132.22" y="370.36"/>
<use href="#bd2" x="136.21" y="370.35"/>
<use href="#bd2" x="140.2" y="370.34"/>
<use href="#bd2" x="144.2" y="370.34"/>
<use href="#bd2" x="148.19" y="370.34"/>
<use href="#bd2" x="152.18" y="370.33"/>
<use href="#bd2" x="156.17" y="370.33"/>
<use href="#bd2" x="160.17" y="370.33"/>
<use href="#bd2" x="164.16" y="370.33"/>
<use href="#bd2" x="168.15" y="370.33"/>
<use href="#bd2" x="172.15" y="370.33"/>
<use href="#bd2" x="176.14" y="370.33"/>
<use href="#bd2" x="180.13" y="370.33"/>
<use href="#bd2" x="184.12" y="370.32"/>
<use href="#bd2" x="188.11" y="370.32"/>
<use href="#bd2" x="192.11" y="370.32"/>
<use href="#bd2" x="196.1" y="370.32"/>
<polyline points="36.4,383.8 40.39,383.8 44.38,383.8 48.38,383.8 52.37,383.8 56.36,383.8 60.35,383.8 64.35,383.8 68.34,383.8 72.33,383.8 76.32,383.8 80.32,383.8 84.31,383.8 88.3,383.8 92.29,383.8 96.29,383.8 100.28,383.8 104.27,383.8 108.26,383.8 112.26,383.8 116.25,383.8 120.24,383.8 124.23,383.8 128.23,383.8 132.22,383.8 136.21,383.8 140.2,383.8 144.2,383.8 148.19,383.8 152.18,383.8 156.17,383.8 160.17,383.8 164.16,383.8 168.15,383.8 172.15,383.8 176.14,383.8 180.13,383.8 184.12,383.8 188.11,383.8 192.11,383.8 196.1,383.8" fill="none" stroke="#3a3a3a" stroke-width="0.8" stroke-linejoin="round" />
<use href="#bd0" x="36.4" y="383.8"/>
<use href="#bd0" x="40.39" y="383.8"/>
<use href="#bd0" x="44.38" y="383.8"/>
<use href="#bd0" x="48.38" y="383.8"/>
<use href="#bd0" x="52.37" y="383.8"/>
<use href="#bd0" x="56.36" y="383.8"/>
<use href="#bd0" x="60.35" y="383.8"/>
<use href="#bd0" x="64.35" y="383.8"/>
<use href="#bd0" x="68.34" y="383.8"/>
<use href="#bd0" x="72.33" y="383.8"/>
<use href="#bd0" x="76.32" y="383.8"/>
<use href="#bd0" x="80.32" y="383.8"/>
<use href="#bd0" x="84.31" y="383.8"/>
<use href="#bd0" x="88.3" y="383.8"/>
<use href="#bd0" x="92.29" y="383.8"/>
<use href="#bd0" x="96.29" y="383.8"/>
<use href="#bd0" x="100.28" y="383.8"/>
<use href="#bd0" x="104.27" y="383.8"/>
<use href="#bd0" x="108.26" y="383.8"/>
<use href="#bd0" x="112.26" y="383.8"/>
<use href="#bd0" x="116.25" y="383.8"/>
<use href="#bd0" x="120.24" y="383.8"/>
<use href="#bd0" x="124.23" y="383.8"/>
<use href="#bd0" x="128.23" y="383.8"/>
<use href="#bd0" x="132.22" y="383.8"/>
<use href="#bd0" x="136.21" y="383.8"/>
<use href="#bd0" x="140.2" y="383.8"/>
<use href="#bd0" x="144.2" y="383.8"/>
<use href="#bd0" x="148.19" y="383.8"/>
<use href="#bd0" x="152.18" y="383.8"/>
<use href="#bd0" x="156.17" y="383.8"/>
<use href="#bd0" x="160.17" y="383.8"/>
<use href="#bd0" x="164.16" y="383.8"/>
<use href="#bd0" x="168.15" y="383.8"/>
<use href="#bd0" x="172.15" y="383.8"/>
<use href="#bd0" x="176.14" y="383.8"/>
<use href="#bd0" x="180.13" y="383.8"/>
<use href="#bd0" x="184.12" y="383.8"/>
<use href="#bd0" x="188.11" y="383.8"/>
<use href="#bd0" x="192.11" y="383.8"/>
<use href="#bd0" x="196.1" y="383.8"/>
<polyline points="36.4,383.8 40.39,383.36 44.38,382.97 48.38,382.66 52.37,382.43 56.36,382.28 60.35,382.17 64.35,382.11 68.34,382.07 72.33,382.04 76.32,382.03 80.32,382.02 84.31,382.01 88.3,382.01 92.29,382.01 96.29,382.01 100.28,382 104.27,382 108.26,382 112.26,382 116.25,382 120.24,382 124.23,382 128.23,382 132.22,382 136.21,382 140.2,382 144.2,382 148.19,382 152.18,382 156.17,382 160.17,382 164.16,382 168.15,382 172.15,382 176.14,382 180.13,382 184.12,382 188.11,382 192.11,382 196.1,382" fill="none" stroke="#f39aa0" stroke-width="0.8" stroke-linejoin="round" />
<use href="#bd1" x="36.4" y="383.8"/>
<use href="#bd1" x="40.39" y="383.36"/>
<use href="#bd1" x="44.38" y="382.97"/>
<use href="#bd1" x="48.38" y="382.66"/>
<use href="#bd1" x="52.37" y="382.43"/>
<use href="#bd1" x="56.36" y="382.28"/>
<use href="#bd1" x="60.35" y="382.17"/>
<use href="#bd1" x="64.35" y="382.11"/>
<use href="#bd1" x="68.34" y="382.07"/>
<use href="#bd1" x="72.33" y="382.04"/>
<use href="#bd1" x="76.32" y="382.03"/>
<use href="#bd1" x="80.32" y="382.02"/>
<use href="#bd1" x="84.31" y="382.01"/>
<use href="#bd1" x="88.3" y="382.01"/>
<use href="#bd1" x="92.29" y="382.01"/>
<use href="#bd1" x="96.29" y="382.01"/>
<use href="#bd1" x="100.28" y="382"/>
<use href="#bd1" x="104.27" y="382"/>
<use href="#bd1" x="108.26" y="382"/>
<use href="#bd1" x="112.26" y="382"/>
<use href="#bd1" x="116.25" y="382"/>
<use href="#bd1" x="120.24" y="382"/>
<use href="#bd1" x="124.23" y="382"/>
<use href="#bd1" x="128.23" y="382"/>
<use href="#bd1" x="132.22" y="382"/>
<use href="#bd1" x="136.21" y="382"/>
<use href="#bd1" x="140.2" y="382"/>
<use href="#bd1" x="144.2" y="382"/>
<use href="#bd1" x="148.19" y="382"/>
<use href="#bd1" x="152.18" y="382"/>
<use href="#bd1" x="156.17" y="382"/>
<use href="#bd1" x="160.17" y="382"/>
<use href="#bd1" x="164.16" y="382"/>
<use href="#bd1" x="168.15" y="382"/>
<use href="#bd1" x="172.15" y="382"/>
<use href="#bd1" x="176.14" y="382"/>
<use href="#bd1" x="180.13" y="382"/>
<use href="#bd1" x="184.12" y="382"/>
<use href="#bd1" x="188.11" y="382"/>
<use href="#bd1" x="192.11" y="382"/>
<use href="#bd1" x="196.1" y="382"/>
<line x1="36.4" y1="271.5" x2="196.1" y2="271.5" stroke="#5a5354" stroke-width="1.0"/>
<line x1="196.1" y1="271.5" x2="196.1" y2="383.8" stroke="#6a6364" stroke-width="1.0"/>
<line x1="36.4" y1="271.5" x2="36.4" y2="384.3" stroke="#6a6364" stroke-width="1.1"/>
<line x1="36.4" y1="383.8" x2="196.1" y2="383.8" stroke="#5a5354" stroke-width="1.0"/>
<line x1="33.8" y1="383.8" x2="36.4" y2="383.8" stroke="#6a6364" stroke-width="1.0"/>
<text x="32.9" y="387.8" font-size="11.3" fill="#1f1a1b" text-anchor="end" font-weight="bold" font-style="normal" >0</text>
<line x1="33.8" y1="361.34" x2="36.4" y2="361.34" stroke="#6a6364" stroke-width="1.0"/>
<text x="32.9" y="365.34" font-size="11.3" fill="#1f1a1b" text-anchor="end" font-weight="bold" font-style="normal" >1</text>
<line x1="33.8" y1="338.88" x2="36.4" y2="338.88" stroke="#6a6364" stroke-width="1.0"/>
<text x="32.9" y="342.88" font-size="11.3" fill="#1f1a1b" text-anchor="end" font-weight="bold" font-style="normal" >2</text>
<line x1="33.8" y1="316.42" x2="36.4" y2="316.42" stroke="#6a6364" stroke-width="1.0"/>
<text x="32.9" y="320.42" font-size="11.3" fill="#1f1a1b" text-anchor="end" font-weight="bold" font-style="normal" >3</text>
<line x1="33.8" y1="293.96" x2="36.4" y2="293.96" stroke="#6a6364" stroke-width="1.0"/>
<text x="32.9" y="297.96" font-size="11.3" fill="#1f1a1b" text-anchor="end" font-weight="bold" font-style="normal" >4</text>
<line x1="33.8" y1="271.5" x2="36.4" y2="271.5" stroke="#6a6364" stroke-width="1.0"/>
<text x="32.9" y="275.5" font-size="11.3" fill="#1f1a1b" text-anchor="end" font-weight="bold" font-style="normal" >5</text>
<text x="36.4" y="397.9" font-size="11.3" fill="#1f1a1b" text-anchor="middle" font-weight="bold" font-style="normal" >0</text>
<text x="68.34" y="397.9" font-size="11.3" fill="#1f1a1b" text-anchor="middle" font-weight="bold" font-style="normal" >2</text>
<text x="100.28" y="397.9" font-size="11.3" fill="#1f1a1b" text-anchor="middle" font-weight="bold" font-style="normal" >4</text>
<text x="132.22" y="397.9" font-size="11.3" fill="#1f1a1b" text-anchor="middle" font-weight="bold" font-style="normal" >6</text>
<text x="164.16" y="397.9" font-size="11.3" fill="#1f1a1b" text-anchor="middle" font-weight="bold" font-style="normal" >8</text>
<text x="196.1" y="397.9" font-size="11.3" fill="#1f1a1b" text-anchor="middle" font-weight="bold" font-style="normal" >10</text>
<text x="37.4" y="267.9" font-size="9.3" fill="#1f1a1b" font-weight="bold">x10<tspan font-size="6" dy="-5">-4</tspan></text>
<text x="39.4" y="282.9" font-size="10.8" fill="#1f1a1b" text-anchor="start" font-weight="bold" font-style="normal" >Hyb_0</text>
<line x1="38.9" y1="292.2" x2="50.9" y2="292.2" stroke="#3a3a3a" stroke-width="1.0"/>
<use href="#bd0" x="44.6" y="292.2"/>
<text x="51.8" y="294.2" font-size="5.7" fill="#403a3b" font-weight="bold" textLength="20.2" lengthAdjust="spacingAndGlyphs">V<tspan font-size="3.3" dy="1.5">GS</tspan><tspan dy="-1.5"> = 0 V</tspan></text>
<line x1="38.9" y1="300" x2="50.9" y2="300" stroke="#f39aa0" stroke-width="1.0"/>
<use href="#bd1" x="44.6" y="300"/>
<text x="51.8" y="302" font-size="5.7" fill="#403a3b" font-weight="bold" textLength="24.0" lengthAdjust="spacingAndGlyphs">V<tspan font-size="3.3" dy="1.5">GS</tspan><tspan dy="-1.5"> = 2.5 V</tspan></text>
<line x1="38.9" y1="307.8" x2="50.9" y2="307.8" stroke="#9fd6d8" stroke-width="1.0"/>
<use href="#bd2" x="44.6" y="307.8"/>
<text x="51.8" y="309.8" font-size="5.7" fill="#403a3b" font-weight="bold" textLength="20.2" lengthAdjust="spacingAndGlyphs">V<tspan font-size="3.3" dy="1.5">GS</tspan><tspan dy="-1.5"> = 5 V</tspan></text>
<line x1="38.9" y1="315.6" x2="50.9" y2="315.6" stroke="#1e8a98" stroke-width="1.0"/>
<use href="#bd3" x="44.6" y="315.6"/>
<text x="51.8" y="317.6" font-size="5.7" fill="#403a3b" font-weight="bold" textLength="24.0" lengthAdjust="spacingAndGlyphs">V<tspan font-size="3.3" dy="1.5">GS</tspan><tspan dy="-1.5"> = 7.5 V</tspan></text>
<line x1="38.9" y1="323.4" x2="50.9" y2="323.4" stroke="#27306e" stroke-width="1.0"/>
<use href="#bd4" x="44.6" y="323.4"/>
<text x="51.8" y="325.4" font-size="5.7" fill="#403a3b" font-weight="bold" textLength="22.4" lengthAdjust="spacingAndGlyphs">V<tspan font-size="3.3" dy="1.5">GS</tspan><tspan dy="-1.5"> = 10 V</tspan></text>
<text x="100.2" y="410.9" font-size="12.2" fill="#1f1a1b" font-weight="bold"><tspan font-style="italic">V</tspan><tspan font-size="7.9" dy="5.0">DS</tspan><tspan dy="-5.0">(V)</tspan></text>
<text transform="translate(16.7,343.6) rotate(-90)" font-size="14" fill="#1f1a1b" font-weight="bold"><tspan font-style="italic">I</tspan><tspan font-size="8.6" dy="5.6">DS</tspan><tspan dy="-5.6">(A)</tspan></text>
<text x="233.6" y="273.3" font-size="23" fill="#1f1a1b" text-anchor="start" font-weight="bold" font-style="normal" >e</text>
<polyline points="268.1,383.7 272.09,377.86 276.07,372.1 280.06,366.33 284.04,360.76 288.03,355.59 292.01,350.7 296,346.06 299.98,341.63 303.97,337.38 307.95,333.39 311.94,329.74 315.92,326.31 319.91,322.99 323.89,319.88 327.88,317.06 331.86,314.44 335.85,311.84 339.83,309.54 343.81,307.76 347.8,306.19 351.79,304.65 355.77,303.2 359.75,301.82 363.74,300.57 367.73,299.47 371.71,298.48 375.69,297.58 379.68,296.76 383.67,295.98 387.65,295.31 391.63,294.76 395.62,294.31 399.61,293.96 403.59,293.68 407.57,293.46 411.56,293.31 415.55,293.21 419.53,293.13 423.51,293.07 427.5,293.04" fill="none" stroke="#27306e" stroke-width="0.8" stroke-linejoin="round" />
<use href="#bd4" x="268.1" y="383.7"/>
<use href="#bd4" x="272.09" y="377.86"/>
<use href="#bd4" x="276.07" y="372.1"/>
<use href="#bd4" x="280.06" y="366.33"/>
<use href="#bd4" x="284.04" y="360.76"/>
<use href="#bd4" x="288.03" y="355.59"/>
<use href="#bd4" x="292.01" y="350.7"/>
<use href="#bd4" x="296" y="346.06"/>
<use href="#bd4" x="299.98" y="341.63"/>
<use href="#bd4" x="303.97" y="337.38"/>
<use href="#bd4" x="307.95" y="333.39"/>
<use href="#bd4" x="311.94" y="329.74"/>
<use href="#bd4" x="315.92" y="326.31"/>
<use href="#bd4" x="319.91" y="322.99"/>
<use href="#bd4" x="323.89" y="319.88"/>
<use href="#bd4" x="327.88" y="317.06"/>
<use href="#bd4" x="331.86" y="314.44"/>
<use href="#bd4" x="335.85" y="311.84"/>
<use href="#bd4" x="339.83" y="309.54"/>
<use href="#bd4" x="343.81" y="307.76"/>
<use href="#bd4" x="347.8" y="306.19"/>
<use href="#bd4" x="351.79" y="304.65"/>
<use href="#bd4" x="355.77" y="303.2"/>
<use href="#bd4" x="359.75" y="301.82"/>
<use href="#bd4" x="363.74" y="300.57"/>
<use href="#bd4" x="367.73" y="299.47"/>
<use href="#bd4" x="371.71" y="298.48"/>
<use href="#bd4" x="375.69" y="297.58"/>
<use href="#bd4" x="379.68" y="296.76"/>
<use href="#bd4" x="383.67" y="295.98"/>
<use href="#bd4" x="387.65" y="295.31"/>
<use href="#bd4" x="391.63" y="294.76"/>
<use href="#bd4" x="395.62" y="294.31"/>
<use href="#bd4" x="399.61" y="293.96"/>
<use href="#bd4" x="403.59" y="293.68"/>
<use href="#bd4" x="407.57" y="293.46"/>
<use href="#bd4" x="411.56" y="293.31"/>
<use href="#bd4" x="415.55" y="293.21"/>
<use href="#bd4" x="419.53" y="293.13"/>
<use href="#bd4" x="423.51" y="293.07"/>
<use href="#bd4" x="427.5" y="293.04"/>
<polyline points="268.1,383.7 272.09,380.17 276.07,376.7 280.06,373.31 284.04,370.06 288.03,366.98 292.01,364.1 296,361.43 299.98,358.98 303.97,356.76 307.95,354.76 311.94,352.98 315.92,351.4 319.91,350.01 323.89,348.79 327.88,347.72 331.86,346.8 335.85,346 339.83,345.31 343.81,344.72 347.8,344.21 351.79,343.77 355.77,343.4 359.75,343.08 363.74,342.81 367.73,342.58 371.71,342.39 375.69,342.22 379.68,342.08 383.67,341.96 387.65,341.86 391.63,341.77 395.62,341.7 399.61,341.63 403.59,341.58 407.57,341.54 411.56,341.5 415.55,341.47 419.53,341.44 423.51,341.42 427.5,341.4" fill="none" stroke="#1e8a98" stroke-width="0.8" stroke-linejoin="round" />
<use href="#bd3" x="268.1" y="383.7"/>
<use href="#bd3" x="272.09" y="380.17"/>
<use href="#bd3" x="276.07" y="376.7"/>
<use href="#bd3" x="280.06" y="373.31"/>
<use href="#bd3" x="284.04" y="370.06"/>
<use href="#bd3" x="288.03" y="366.98"/>
<use href="#bd3" x="292.01" y="364.1"/>
<use href="#bd3" x="296" y="361.43"/>
<use href="#bd3" x="299.98" y="358.98"/>
<use href="#bd3" x="303.97" y="356.76"/>
<use href="#bd3" x="307.95" y="354.76"/>
<use href="#bd3" x="311.94" y="352.98"/>
<use href="#bd3" x="315.92" y="351.4"/>
<use href="#bd3" x="319.91" y="350.01"/>
<use href="#bd3" x="323.89" y="348.79"/>
<use href="#bd3" x="327.88" y="347.72"/>
<use href="#bd3" x="331.86" y="346.8"/>
<use href="#bd3" x="335.85" y="346"/>
<use href="#bd3" x="339.83" y="345.31"/>
<use href="#bd3" x="343.81" y="344.72"/>
<use href="#bd3" x="347.8" y="344.21"/>
<use href="#bd3" x="351.79" y="343.77"/>
<use href="#bd3" x="355.77" y="343.4"/>
<use href="#bd3" x="359.75" y="343.08"/>
<use href="#bd3" x="363.74" y="342.81"/>
<use href="#bd3" x="367.73" y="342.58"/>
<use href="#bd3" x="371.71" y="342.39"/>
<use href="#bd3" x="375.69" y="342.22"/>
<use href="#bd3" x="379.68" y="342.08"/>
<use href="#bd3" x="383.67" y="341.96"/>
<use href="#bd3" x="387.65" y="341.86"/>
<use href="#bd3" x="391.63" y="341.77"/>
<use href="#bd3" x="395.62" y="341.7"/>
<use href="#bd3" x="399.61" y="341.63"/>
<use href="#bd3" x="403.59" y="341.58"/>
<use href="#bd3" x="407.57" y="341.54"/>
<use href="#bd3" x="411.56" y="341.5"/>
<use href="#bd3" x="415.55" y="341.47"/>
<use href="#bd3" x="419.53" y="341.44"/>
<use href="#bd3" x="423.51" y="341.42"/>
<use href="#bd3" x="427.5" y="341.4"/>
<polyline points="268.1,383.7 272.09,381.59 276.07,379.57 280.06,377.69 284.04,376 288.03,374.53 292.01,373.29 296,372.26 299.98,371.42 303.97,370.76 307.95,370.23 311.94,369.81 315.92,369.49 319.91,369.24 323.89,369.05 327.88,368.91 331.86,368.8 335.85,368.71 339.83,368.65 343.81,368.6 347.8,368.56 351.79,368.53 355.77,368.51 359.75,368.49 363.74,368.48 367.73,368.47 371.71,368.46 375.69,368.46 379.68,368.45 383.67,368.45 387.65,368.45 391.63,368.45 395.62,368.45 399.61,368.44 403.59,368.44 407.57,368.44 411.56,368.44 415.55,368.44 419.53,368.44 423.51,368.44 427.5,368.44" fill="none" stroke="#9fd6d8" stroke-width="0.8" stroke-linejoin="round" />
<use href="#bd2" x="268.1" y="383.7"/>
<use href="#bd2" x="272.09" y="381.59"/>
<use href="#bd2" x="276.07" y="379.57"/>
<use href="#bd2" x="280.06" y="377.69"/>
<use href="#bd2" x="284.04" y="376"/>
<use href="#bd2" x="288.03" y="374.53"/>
<use href="#bd2" x="292.01" y="373.29"/>
<use href="#bd2" x="296" y="372.26"/>
<use href="#bd2" x="299.98" y="371.42"/>
<use href="#bd2" x="303.97" y="370.76"/>
<use href="#bd2" x="307.95" y="370.23"/>
<use href="#bd2" x="311.94" y="369.81"/>
<use href="#bd2" x="315.92" y="369.49"/>
<use href="#bd2" x="319.91" y="369.24"/>
<use href="#bd2" x="323.89" y="369.05"/>
<use href="#bd2" x="327.88" y="368.91"/>
<use href="#bd2" x="331.86" y="368.8"/>
<use href="#bd2" x="335.85" y="368.71"/>
<use href="#bd2" x="339.83" y="368.65"/>
<use href="#bd2" x="343.81" y="368.6"/>
<use href="#bd2" x="347.8" y="368.56"/>
<use href="#bd2" x="351.79" y="368.53"/>
<use href="#bd2" x="355.77" y="368.51"/>
<use href="#bd2" x="359.75" y="368.49"/>
<use href="#bd2" x="363.74" y="368.48"/>
<use href="#bd2" x="367.73" y="368.47"/>
<use href="#bd2" x="371.71" y="368.46"/>
<use href="#bd2" x="375.69" y="368.46"/>
<use href="#bd2" x="379.68" y="368.45"/>
<use href="#bd2" x="383.67" y="368.45"/>
<use href="#bd2" x="387.65" y="368.45"/>
<use href="#bd2" x="391.63" y="368.45"/>
<use href="#bd2" x="395.62" y="368.45"/>
<use href="#bd2" x="399.61" y="368.44"/>
<use href="#bd2" x="403.59" y="368.44"/>
<use href="#bd2" x="407.57" y="368.44"/>
<use href="#bd2" x="411.56" y="368.44"/>
<use href="#bd2" x="415.55" y="368.44"/>
<use href="#bd2" x="419.53" y="368.44"/>
<use href="#bd2" x="423.51" y="368.44"/>
<use href="#bd2" x="427.5" y="368.44"/>
<polyline points="268.1,383.7 272.09,383.7 276.07,383.7 280.06,383.7 284.04,383.7 288.03,383.7 292.01,383.7 296,383.7 299.98,383.7 303.97,383.7 307.95,383.7 311.94,383.7 315.92,383.7 319.91,383.7 323.89,383.7 327.88,383.7 331.86,383.7 335.85,383.7 339.83,383.7 343.81,383.7 347.8,383.7 351.79,383.7 355.77,383.7 359.75,383.7 363.74,383.7 367.73,383.7 371.71,383.7 375.69,383.7 379.68,383.7 383.67,383.7 387.65,383.7 391.63,383.7 395.62,383.7 399.61,383.7 403.59,383.7 407.57,383.7 411.56,383.7 415.55,383.7 419.53,383.7 423.51,383.7 427.5,383.7" fill="none" stroke="#3a3a3a" stroke-width="0.8" stroke-linejoin="round" />
<use href="#bd0" x="268.1" y="383.7"/>
<use href="#bd0" x="272.09" y="383.7"/>
<use href="#bd0" x="276.07" y="383.7"/>
<use href="#bd0" x="280.06" y="383.7"/>
<use href="#bd0" x="284.04" y="383.7"/>
<use href="#bd0" x="288.03" y="383.7"/>
<use href="#bd0" x="292.01" y="383.7"/>
<use href="#bd0" x="296" y="383.7"/>
<use href="#bd0" x="299.98" y="383.7"/>
<use href="#bd0" x="303.97" y="383.7"/>
<use href="#bd0" x="307.95" y="383.7"/>
<use href="#bd0" x="311.94" y="383.7"/>
<use href="#bd0" x="315.92" y="383.7"/>
<use href="#bd0" x="319.91" y="383.7"/>
<use href="#bd0" x="323.89" y="383.7"/>
<use href="#bd0" x="327.88" y="383.7"/>
<use href="#bd0" x="331.86" y="383.7"/>
<use href="#bd0" x="335.85" y="383.7"/>
<use href="#bd0" x="339.83" y="383.7"/>
<use href="#bd0" x="343.81" y="383.7"/>
<use href="#bd0" x="347.8" y="383.7"/>
<use href="#bd0" x="351.79" y="383.7"/>
<use href="#bd0" x="355.77" y="383.7"/>
<use href="#bd0" x="359.75" y="383.7"/>
<use href="#bd0" x="363.74" y="383.7"/>
<use href="#bd0" x="367.73" y="383.7"/>
<use href="#bd0" x="371.71" y="383.7"/>
<use href="#bd0" x="375.69" y="383.7"/>
<use href="#bd0" x="379.68" y="383.7"/>
<use href="#bd0" x="383.67" y="383.7"/>
<use href="#bd0" x="387.65" y="383.7"/>
<use href="#bd0" x="391.63" y="383.7"/>
<use href="#bd0" x="395.62" y="383.7"/>
<use href="#bd0" x="399.61" y="383.7"/>
<use href="#bd0" x="403.59" y="383.7"/>
<use href="#bd0" x="407.57" y="383.7"/>
<use href="#bd0" x="411.56" y="383.7"/>
<use href="#bd0" x="415.55" y="383.7"/>
<use href="#bd0" x="419.53" y="383.7"/>
<use href="#bd0" x="423.51" y="383.7"/>
<use href="#bd0" x="427.5" y="383.7"/>
<polyline points="268.1,383.7 272.09,383.15 276.07,382.66 280.06,382.27 284.04,381.99 288.03,381.8 292.01,381.67 296,381.59 299.98,381.54 303.97,381.51 307.95,381.49 311.94,381.47 315.92,381.47 319.91,381.46 323.89,381.46 327.88,381.46 331.86,381.46 335.85,381.46 339.83,381.46 343.81,381.46 347.8,381.46 351.79,381.46 355.77,381.46 359.75,381.46 363.74,381.46 367.73,381.46 371.71,381.46 375.69,381.46 379.68,381.46 383.67,381.46 387.65,381.46 391.63,381.46 395.62,381.46 399.61,381.46 403.59,381.46 407.57,381.46 411.56,381.46 415.55,381.46 419.53,381.46 423.51,381.46 427.5,381.46" fill="none" stroke="#f39aa0" stroke-width="0.8" stroke-linejoin="round" />
<use href="#bd1" x="268.1" y="383.7"/>
<use href="#bd1" x="272.09" y="383.15"/>
<use href="#bd1" x="276.07" y="382.66"/>
<use href="#bd1" x="280.06" y="382.27"/>
<use href="#bd1" x="284.04" y="381.99"/>
<use href="#bd1" x="288.03" y="381.8"/>
<use href="#bd1" x="292.01" y="381.67"/>
<use href="#bd1" x="296" y="381.59"/>
<use href="#bd1" x="299.98" y="381.54"/>
<use href="#bd1" x="303.97" y="381.51"/>
<use href="#bd1" x="307.95" y="381.49"/>
<use href="#bd1" x="311.94" y="381.47"/>
<use href="#bd1" x="315.92" y="381.47"/>
<use href="#bd1" x="319.91" y="381.46"/>
<use href="#bd1" x="323.89" y="381.46"/>
<use href="#bd1" x="327.88" y="381.46"/>
<use href="#bd1" x="331.86" y="381.46"/>
<use href="#bd1" x="335.85" y="381.46"/>
<use href="#bd1" x="339.83" y="381.46"/>
<use href="#bd1" x="343.81" y="381.46"/>
<use href="#bd1" x="347.8" y="381.46"/>
<use href="#bd1" x="351.79" y="381.46"/>
<use href="#bd1" x="355.77" y="381.46"/>
<use href="#bd1" x="359.75" y="381.46"/>
<use href="#bd1" x="363.74" y="381.46"/>
<use href="#bd1" x="367.73" y="381.46"/>
<use href="#bd1" x="371.71" y="381.46"/>
<use href="#bd1" x="375.69" y="381.46"/>
<use href="#bd1" x="379.68" y="381.46"/>
<use href="#bd1" x="383.67" y="381.46"/>
<use href="#bd1" x="387.65" y="381.46"/>
<use href="#bd1" x="391.63" y="381.46"/>
<use href="#bd1" x="395.62" y="381.46"/>
<use href="#bd1" x="399.61" y="381.46"/>
<use href="#bd1" x="403.59" y="381.46"/>
<use href="#bd1" x="407.57" y="381.46"/>
<use href="#bd1" x="411.56" y="381.46"/>
<use href="#bd1" x="415.55" y="381.46"/>
<use href="#bd1" x="419.53" y="381.46"/>
<use href="#bd1" x="423.51" y="381.46"/>
<use href="#bd1" x="427.5" y="381.46"/>
<line x1="268.1" y1="271.5" x2="427.5" y2="271.5" stroke="#5a5354" stroke-width="1.0"/>
<line x1="427.5" y1="271.5" x2="427.5" y2="383.7" stroke="#6a6364" stroke-width="1.0"/>
<line x1="268.1" y1="271.5" x2="268.1" y2="384.2" stroke="#6a6364" stroke-width="1.1"/>
<line x1="268.1" y1="383.7" x2="427.5" y2="383.7" stroke="#5a5354" stroke-width="1.0"/>
<line x1="265.5" y1="383.7" x2="268.1" y2="383.7" stroke="#6a6364" stroke-width="1.0"/>
<text x="264.6" y="387.7" font-size="11.3" fill="#1f1a1b" text-anchor="end" font-weight="bold" font-style="normal" >0</text>
<line x1="265.5" y1="361.26" x2="268.1" y2="361.26" stroke="#6a6364" stroke-width="1.0"/>
<text x="264.6" y="365.26" font-size="11.3" fill="#1f1a1b" text-anchor="end" font-weight="bold" font-style="normal" >1</text>
<line x1="265.5" y1="338.82" x2="268.1" y2="338.82" stroke="#6a6364" stroke-width="1.0"/>
<text x="264.6" y="342.82" font-size="11.3" fill="#1f1a1b" text-anchor="end" font-weight="bold" font-style="normal" >2</text>
<line x1="265.5" y1="316.38" x2="268.1" y2="316.38" stroke="#6a6364" stroke-width="1.0"/>
<text x="264.6" y="320.38" font-size="11.3" fill="#1f1a1b" text-anchor="end" font-weight="bold" font-style="normal" >3</text>
<line x1="265.5" y1="293.94" x2="268.1" y2="293.94" stroke="#6a6364" stroke-width="1.0"/>
<text x="264.6" y="297.94" font-size="11.3" fill="#1f1a1b" text-anchor="end" font-weight="bold" font-style="normal" >4</text>
<line x1="265.5" y1="271.5" x2="268.1" y2="271.5" stroke="#6a6364" stroke-width="1.0"/>
<text x="264.6" y="275.5" font-size="11.3" fill="#1f1a1b" text-anchor="end" font-weight="bold" font-style="normal" >5</text>
<text x="268.1" y="397.9" font-size="11.3" fill="#1f1a1b" text-anchor="middle" font-weight="bold" font-style="normal" >0</text>
<text x="299.98" y="397.9" font-size="11.3" fill="#1f1a1b" text-anchor="middle" font-weight="bold" font-style="normal" >2</text>
<text x="331.86" y="397.9" font-size="11.3" fill="#1f1a1b" text-anchor="middle" font-weight="bold" font-style="normal" >4</text>
<text x="363.74" y="397.9" font-size="11.3" fill="#1f1a1b" text-anchor="middle" font-weight="bold" font-style="normal" >6</text>
<text x="395.62" y="397.9" font-size="11.3" fill="#1f1a1b" text-anchor="middle" font-weight="bold" font-style="normal" >8</text>
<text x="427.5" y="397.9" font-size="11.3" fill="#1f1a1b" text-anchor="middle" font-weight="bold" font-style="normal" >10</text>
<text x="269.1" y="267.9" font-size="9.3" fill="#1f1a1b" font-weight="bold">x10<tspan font-size="6" dy="-5">-4</tspan></text>
<text x="271.1" y="282.9" font-size="10.8" fill="#1f1a1b" text-anchor="start" font-weight="bold" font-style="normal" >Hyb_1</text>
<line x1="270.6" y1="292.2" x2="282.6" y2="292.2" stroke="#3a3a3a" stroke-width="1.0"/>
<use href="#bd0" x="276.3" y="292.2"/>
<text x="283.5" y="294.2" font-size="5.7" fill="#403a3b" font-weight="bold" textLength="20.2" lengthAdjust="spacingAndGlyphs">V<tspan font-size="3.3" dy="1.5">GS</tspan><tspan dy="-1.5"> = 0 V</tspan></text>
<line x1="270.6" y1="300" x2="282.6" y2="300" stroke="#f39aa0" stroke-width="1.0"/>
<use href="#bd1" x="276.3" y="300"/>
<text x="283.5" y="302" font-size="5.7" fill="#403a3b" font-weight="bold" textLength="24.0" lengthAdjust="spacingAndGlyphs">V<tspan font-size="3.3" dy="1.5">GS</tspan><tspan dy="-1.5"> = 2.5 V</tspan></text>
<line x1="270.6" y1="307.8" x2="282.6" y2="307.8" stroke="#9fd6d8" stroke-width="1.0"/>
<use href="#bd2" x="276.3" y="307.8"/>
<text x="283.5" y="309.8" font-size="5.7" fill="#403a3b" font-weight="bold" textLength="20.2" lengthAdjust="spacingAndGlyphs">V<tspan font-size="3.3" dy="1.5">GS</tspan><tspan dy="-1.5"> = 5 V</tspan></text>
<line x1="270.6" y1="315.6" x2="282.6" y2="315.6" stroke="#1e8a98" stroke-width="1.0"/>
<use href="#bd3" x="276.3" y="315.6"/>
<text x="283.5" y="317.6" font-size="5.7" fill="#403a3b" font-weight="bold" textLength="24.0" lengthAdjust="spacingAndGlyphs">V<tspan font-size="3.3" dy="1.5">GS</tspan><tspan dy="-1.5"> = 7.5 V</tspan></text>
<line x1="270.6" y1="323.4" x2="282.6" y2="323.4" stroke="#27306e" stroke-width="1.0"/>
<use href="#bd4" x="276.3" y="323.4"/>
<text x="283.5" y="325.4" font-size="5.7" fill="#403a3b" font-weight="bold" textLength="22.4" lengthAdjust="spacingAndGlyphs">V<tspan font-size="3.3" dy="1.5">GS</tspan><tspan dy="-1.5"> = 10 V</tspan></text>
<text x="331.9" y="410.9" font-size="12.2" fill="#1f1a1b" font-weight="bold"><tspan font-style="italic">V</tspan><tspan font-size="7.9" dy="5.0">DS</tspan><tspan dy="-5.0">(V)</tspan></text>
<text transform="translate(248.4,343.6) rotate(-90)" font-size="14" fill="#1f1a1b" font-weight="bold"><tspan font-style="italic">I</tspan><tspan font-size="8.6" dy="5.6">DS</tspan><tspan dy="-5.6">(A)</tspan></text>
<text x="465" y="272.8" font-size="23" fill="#1f1a1b" text-anchor="start" font-weight="bold" font-style="normal" >f</text>
<polyline points="498.5,384.4 502.54,377.96 506.58,371.6 510.63,365.24 514.67,359.1 518.71,353.39 522.75,348 526.8,342.87 530.84,338 534.88,333.31 538.92,328.9 542.97,324.88 547.01,321.1 551.05,317.43 555.1,314 559.14,310.89 563.18,308 567.22,305.14 571.26,302.6 575.31,300.63 579.35,298.9 583.39,297.2 587.44,295.6 591.48,294.08 595.52,292.7 599.56,291.49 603.61,290.4 607.65,289.4 611.69,288.5 615.73,287.64 619.78,286.9 623.82,286.29 627.86,285.8 631.9,285.4 635.95,285.1 639.99,284.86 644.03,284.7 648.07,284.58 652.12,284.49 656.16,284.42 660.2,284.4" fill="none" stroke="#27306e" stroke-width="0.8" stroke-linejoin="round" />
<use href="#bd4" x="498.5" y="384.4"/>
<use href="#bd4" x="502.54" y="377.96"/>
<use href="#bd4" x="506.58" y="371.6"/>
<use href="#bd4" x="510.63" y="365.24"/>
<use href="#bd4" x="514.67" y="359.1"/>
<use href="#bd4" x="518.71" y="353.39"/>
<use href="#bd4" x="522.75" y="348"/>
<use href="#bd4" x="526.8" y="342.87"/>
<use href="#bd4" x="530.84" y="338"/>
<use href="#bd4" x="534.88" y="333.31"/>
<use href="#bd4" x="538.92" y="328.9"/>
<use href="#bd4" x="542.97" y="324.88"/>
<use href="#bd4" x="547.01" y="321.1"/>
<use href="#bd4" x="551.05" y="317.43"/>
<use href="#bd4" x="555.1" y="314"/>
<use href="#bd4" x="559.14" y="310.89"/>
<use href="#bd4" x="563.18" y="308"/>
<use href="#bd4" x="567.22" y="305.14"/>
<use href="#bd4" x="571.26" y="302.6"/>
<use href="#bd4" x="575.31" y="300.63"/>
<use href="#bd4" x="579.35" y="298.9"/>
<use href="#bd4" x="583.39" y="297.2"/>
<use href="#bd4" x="587.44" y="295.6"/>
<use href="#bd4" x="591.48" y="294.08"/>
<use href="#bd4" x="595.52" y="292.7"/>
<use href="#bd4" x="599.56" y="291.49"/>
<use href="#bd4" x="603.61" y="290.4"/>
<use href="#bd4" x="607.65" y="289.4"/>
<use href="#bd4" x="611.69" y="288.5"/>
<use href="#bd4" x="615.73" y="287.64"/>
<use href="#bd4" x="619.78" y="286.9"/>
<use href="#bd4" x="623.82" y="286.29"/>
<use href="#bd4" x="627.86" y="285.8"/>
<use href="#bd4" x="631.9" y="285.4"/>
<use href="#bd4" x="635.95" y="285.1"/>
<use href="#bd4" x="639.99" y="284.86"/>
<use href="#bd4" x="644.03" y="284.7"/>
<use href="#bd4" x="648.07" y="284.58"/>
<use href="#bd4" x="652.12" y="284.49"/>
<use href="#bd4" x="656.16" y="284.42"/>
<use href="#bd4" x="660.2" y="284.4"/>
<polyline points="498.5,384.4 502.54,380.48 506.58,376.61 510.63,372.85 514.67,369.24 518.71,365.82 522.75,362.61 526.8,359.64 530.84,356.92 534.88,354.45 538.92,352.23 542.97,350.25 547.01,348.49 551.05,346.94 555.1,345.58 559.14,344.4 563.18,343.37 567.22,342.48 571.26,341.72 575.31,341.06 579.35,340.49 583.39,340.01 587.44,339.6 591.48,339.24 595.52,338.94 599.56,338.69 603.61,338.47 607.65,338.28 611.69,338.12 615.73,337.99 619.78,337.88 623.82,337.78 627.86,337.7 631.9,337.63 635.95,337.57 639.99,337.52 644.03,337.48 648.07,337.44 652.12,337.41 656.16,337.39 660.2,337.37" fill="none" stroke="#1e8a98" stroke-width="0.8" stroke-linejoin="round" />
<use href="#bd3" x="498.5" y="384.4"/>
<use href="#bd3" x="502.54" y="380.48"/>
<use href="#bd3" x="506.58" y="376.61"/>
<use href="#bd3" x="510.63" y="372.85"/>
<use href="#bd3" x="514.67" y="369.24"/>
<use href="#bd3" x="518.71" y="365.82"/>
<use href="#bd3" x="522.75" y="362.61"/>
<use href="#bd3" x="526.8" y="359.64"/>
<use href="#bd3" x="530.84" y="356.92"/>
<use href="#bd3" x="534.88" y="354.45"/>
<use href="#bd3" x="538.92" y="352.23"/>
<use href="#bd3" x="542.97" y="350.25"/>
<use href="#bd3" x="547.01" y="348.49"/>
<use href="#bd3" x="551.05" y="346.94"/>
<use href="#bd3" x="555.1" y="345.58"/>
<use href="#bd3" x="559.14" y="344.4"/>
<use href="#bd3" x="563.18" y="343.37"/>
<use href="#bd3" x="567.22" y="342.48"/>
<use href="#bd3" x="571.26" y="341.72"/>
<use href="#bd3" x="575.31" y="341.06"/>
<use href="#bd3" x="579.35" y="340.49"/>
<use href="#bd3" x="583.39" y="340.01"/>
<use href="#bd3" x="587.44" y="339.6"/>
<use href="#bd3" x="591.48" y="339.24"/>
<use href="#bd3" x="595.52" y="338.94"/>
<use href="#bd3" x="599.56" y="338.69"/>
<use href="#bd3" x="603.61" y="338.47"/>
<use href="#bd3" x="607.65" y="338.28"/>
<use href="#bd3" x="611.69" y="338.12"/>
<use href="#bd3" x="615.73" y="337.99"/>
<use href="#bd3" x="619.78" y="337.88"/>
<use href="#bd3" x="623.82" y="337.78"/>
<use href="#bd3" x="627.86" y="337.7"/>
<use href="#bd3" x="631.9" y="337.63"/>
<use href="#bd3" x="635.95" y="337.57"/>
<use href="#bd3" x="639.99" y="337.52"/>
<use href="#bd3" x="644.03" y="337.48"/>
<use href="#bd3" x="648.07" y="337.44"/>
<use href="#bd3" x="652.12" y="337.41"/>
<use href="#bd3" x="656.16" y="337.39"/>
<use href="#bd3" x="660.2" y="337.37"/>
<polyline points="498.5,384.4 502.54,382.01 506.58,379.71 510.63,377.58 514.67,375.66 518.71,374 522.75,372.59 526.8,371.42 530.84,370.47 534.88,369.71 538.92,369.11 542.97,368.64 547.01,368.28 551.05,368 555.1,367.78 559.14,367.62 563.18,367.49 567.22,367.39 571.26,367.32 575.31,367.26 579.35,367.22 583.39,367.19 587.44,367.16 591.48,367.15 595.52,367.13 599.56,367.12 603.61,367.11 607.65,367.11 611.69,367.1 615.73,367.1 619.78,367.1 623.82,367.09 627.86,367.09 631.9,367.09 635.95,367.09 639.99,367.09 644.03,367.09 648.07,367.09 652.12,367.09 656.16,367.09 660.2,367.09" fill="none" stroke="#9fd6d8" stroke-width="0.8" stroke-linejoin="round" />
<use href="#bd2" x="498.5" y="384.4"/>
<use href="#bd2" x="502.54" y="382.01"/>
<use href="#bd2" x="506.58" y="379.71"/>
<use href="#bd2" x="510.63" y="377.58"/>
<use href="#bd2" x="514.67" y="375.66"/>
<use href="#bd2" x="518.71" y="374"/>
<use href="#bd2" x="522.75" y="372.59"/>
<use href="#bd2" x="526.8" y="371.42"/>
<use href="#bd2" x="530.84" y="370.47"/>
<use href="#bd2" x="534.88" y="369.71"/>
<use href="#bd2" x="538.92" y="369.11"/>
<use href="#bd2" x="542.97" y="368.64"/>
<use href="#bd2" x="547.01" y="368.28"/>
<use href="#bd2" x="551.05" y="368"/>
<use href="#bd2" x="555.1" y="367.78"/>
<use href="#bd2" x="559.14" y="367.62"/>
<use href="#bd2" x="563.18" y="367.49"/>
<use href="#bd2" x="567.22" y="367.39"/>
<use href="#bd2" x="571.26" y="367.32"/>
<use href="#bd2" x="575.31" y="367.26"/>
<use href="#bd2" x="579.35" y="367.22"/>
<use href="#bd2" x="583.39" y="367.19"/>
<use href="#bd2" x="587.44" y="367.16"/>
<use href="#bd2" x="591.48" y="367.15"/>
<use href="#bd2" x="595.52" y="367.13"/>
<use href="#bd2" x="599.56" y="367.12"/>
<use href="#bd2" x="603.61" y="367.11"/>
<use href="#bd2" x="607.65" y="367.11"/>
<use href="#bd2" x="611.69" y="367.1"/>
<use href="#bd2" x="615.73" y="367.1"/>
<use href="#bd2" x="619.78" y="367.1"/>
<use href="#bd2" x="623.82" y="367.09"/>
<use href="#bd2" x="627.86" y="367.09"/>
<use href="#bd2" x="631.9" y="367.09"/>
<use href="#bd2" x="635.95" y="367.09"/>
<use href="#bd2" x="639.99" y="367.09"/>
<use href="#bd2" x="644.03" y="367.09"/>
<use href="#bd2" x="648.07" y="367.09"/>
<use href="#bd2" x="652.12" y="367.09"/>
<use href="#bd2" x="656.16" y="367.09"/>
<use href="#bd2" x="660.2" y="367.09"/>
<polyline points="498.5,384.4 502.54,384.4 506.58,384.4 510.63,384.4 514.67,384.4 518.71,384.4 522.75,384.4 526.8,384.4 530.84,384.4 534.88,384.4 538.92,384.4 542.97,384.4 547.01,384.4 551.05,384.4 555.1,384.4 559.14,384.4 563.18,384.4 567.22,384.4 571.26,384.4 575.31,384.4 579.35,384.4 583.39,384.4 587.44,384.4 591.48,384.4 595.52,384.4 599.56,384.4 603.61,384.4 607.65,384.4 611.69,384.4 615.73,384.4 619.78,384.4 623.82,384.4 627.86,384.4 631.9,384.4 635.95,384.4 639.99,384.4 644.03,384.4 648.07,384.4 652.12,384.4 656.16,384.4 660.2,384.4" fill="none" stroke="#3a3a3a" stroke-width="0.8" stroke-linejoin="round" />
<use href="#bd0" x="498.5" y="384.4"/>
<use href="#bd0" x="502.54" y="384.4"/>
<use href="#bd0" x="506.58" y="384.4"/>
<use href="#bd0" x="510.63" y="384.4"/>
<use href="#bd0" x="514.67" y="384.4"/>
<use href="#bd0" x="518.71" y="384.4"/>
<use href="#bd0" x="522.75" y="384.4"/>
<use href="#bd0" x="526.8" y="384.4"/>
<use href="#bd0" x="530.84" y="384.4"/>
<use href="#bd0" x="534.88" y="384.4"/>
<use href="#bd0" x="538.92" y="384.4"/>
<use href="#bd0" x="542.97" y="384.4"/>
<use href="#bd0" x="547.01" y="384.4"/>
<use href="#bd0" x="551.05" y="384.4"/>
<use href="#bd0" x="555.1" y="384.4"/>
<use href="#bd0" x="559.14" y="384.4"/>
<use href="#bd0" x="563.18" y="384.4"/>
<use href="#bd0" x="567.22" y="384.4"/>
<use href="#bd0" x="571.26" y="384.4"/>
<use href="#bd0" x="575.31" y="384.4"/>
<use href="#bd0" x="579.35" y="384.4"/>
<use href="#bd0" x="583.39" y="384.4"/>
<use href="#bd0" x="587.44" y="384.4"/>
<use href="#bd0" x="591.48" y="384.4"/>
<use href="#bd0" x="595.52" y="384.4"/>
<use href="#bd0" x="599.56" y="384.4"/>
<use href="#bd0" x="603.61" y="384.4"/>
<use href="#bd0" x="607.65" y="384.4"/>
<use href="#bd0" x="611.69" y="384.4"/>
<use href="#bd0" x="615.73" y="384.4"/>
<use href="#bd0" x="619.78" y="384.4"/>
<use href="#bd0" x="623.82" y="384.4"/>
<use href="#bd0" x="627.86" y="384.4"/>
<use href="#bd0" x="631.9" y="384.4"/>
<use href="#bd0" x="635.95" y="384.4"/>
<use href="#bd0" x="639.99" y="384.4"/>
<use href="#bd0" x="644.03" y="384.4"/>
<use href="#bd0" x="648.07" y="384.4"/>
<use href="#bd0" x="652.12" y="384.4"/>
<use href="#bd0" x="656.16" y="384.4"/>
<use href="#bd0" x="660.2" y="384.4"/>
<polyline points="498.5,384.4 502.54,383.79 506.58,383.24 510.63,382.81 514.67,382.49 518.71,382.27 522.75,382.13 526.8,382.04 530.84,381.98 534.88,381.95 538.92,381.93 542.97,381.91 547.01,381.91 551.05,381.9 555.1,381.9 559.14,381.9 563.18,381.9 567.22,381.9 571.26,381.89 575.31,381.89 579.35,381.89 583.39,381.89 587.44,381.89 591.48,381.89 595.52,381.89 599.56,381.89 603.61,381.89 607.65,381.89 611.69,381.89 615.73,381.89 619.78,381.89 623.82,381.89 627.86,381.89 631.9,381.89 635.95,381.89 639.99,381.89 644.03,381.89 648.07,381.89 652.12,381.89 656.16,381.89 660.2,381.89" fill="none" stroke="#f39aa0" stroke-width="0.8" stroke-linejoin="round" />
<use href="#bd1" x="498.5" y="384.4"/>
<use href="#bd1" x="502.54" y="383.79"/>
<use href="#bd1" x="506.58" y="383.24"/>
<use href="#bd1" x="510.63" y="382.81"/>
<use href="#bd1" x="514.67" y="382.49"/>
<use href="#bd1" x="518.71" y="382.27"/>
<use href="#bd1" x="522.75" y="382.13"/>
<use href="#bd1" x="526.8" y="382.04"/>
<use href="#bd1" x="530.84" y="381.98"/>
<use href="#bd1" x="534.88" y="381.95"/>
<use href="#bd1" x="538.92" y="381.93"/>
<use href="#bd1" x="542.97" y="381.91"/>
<use href="#bd1" x="547.01" y="381.91"/>
<use href="#bd1" x="551.05" y="381.9"/>
<use href="#bd1" x="555.1" y="381.9"/>
<use href="#bd1" x="559.14" y="381.9"/>
<use href="#bd1" x="563.18" y="381.9"/>
<use href="#bd1" x="567.22" y="381.9"/>
<use href="#bd1" x="571.26" y="381.89"/>
<use href="#bd1" x="575.31" y="381.89"/>
<use href="#bd1" x="579.35" y="381.89"/>
<use href="#bd1" x="583.39" y="381.89"/>
<use href="#bd1" x="587.44" y="381.89"/>
<use href="#bd1" x="591.48" y="381.89"/>
<use href="#bd1" x="595.52" y="381.89"/>
<use href="#bd1" x="599.56" y="381.89"/>
<use href="#bd1" x="603.61" y="381.89"/>
<use href="#bd1" x="607.65" y="381.89"/>
<use href="#bd1" x="611.69" y="381.89"/>
<use href="#bd1" x="615.73" y="381.89"/>
<use href="#bd1" x="619.78" y="381.89"/>
<use href="#bd1" x="623.82" y="381.89"/>
<use href="#bd1" x="627.86" y="381.89"/>
<use href="#bd1" x="631.9" y="381.89"/>
<use href="#bd1" x="635.95" y="381.89"/>
<use href="#bd1" x="639.99" y="381.89"/>
<use href="#bd1" x="644.03" y="381.89"/>
<use href="#bd1" x="648.07" y="381.89"/>
<use href="#bd1" x="652.12" y="381.89"/>
<use href="#bd1" x="656.16" y="381.89"/>
<use href="#bd1" x="660.2" y="381.89"/>
<line x1="498.5" y1="270.5" x2="660.2" y2="270.5" stroke="#5a5354" stroke-width="1.0"/>
<line x1="660.2" y1="270.5" x2="660.2" y2="384.4" stroke="#6a6364" stroke-width="1.0"/>
<line x1="498.5" y1="270.5" x2="498.5" y2="384.9" stroke="#6a6364" stroke-width="1.1"/>
<line x1="498.5" y1="384.4" x2="660.2" y2="384.4" stroke="#5a5354" stroke-width="1.0"/>
<line x1="495.9" y1="384.4" x2="498.5" y2="384.4" stroke="#6a6364" stroke-width="1.0"/>
<text x="495" y="388.4" font-size="11.3" fill="#1f1a1b" text-anchor="end" font-weight="bold" font-style="normal" >0</text>
<line x1="495.9" y1="361.62" x2="498.5" y2="361.62" stroke="#6a6364" stroke-width="1.0"/>
<text x="495" y="365.62" font-size="11.3" fill="#1f1a1b" text-anchor="end" font-weight="bold" font-style="normal" >1</text>
<line x1="495.9" y1="338.84" x2="498.5" y2="338.84" stroke="#6a6364" stroke-width="1.0"/>
<text x="495" y="342.84" font-size="11.3" fill="#1f1a1b" text-anchor="end" font-weight="bold" font-style="normal" >2</text>
<line x1="495.9" y1="316.06" x2="498.5" y2="316.06" stroke="#6a6364" stroke-width="1.0"/>
<text x="495" y="320.06" font-size="11.3" fill="#1f1a1b" text-anchor="end" font-weight="bold" font-style="normal" >3</text>
<line x1="495.9" y1="293.28" x2="498.5" y2="293.28" stroke="#6a6364" stroke-width="1.0"/>
<text x="495" y="297.28" font-size="11.3" fill="#1f1a1b" text-anchor="end" font-weight="bold" font-style="normal" >4</text>
<line x1="495.9" y1="270.5" x2="498.5" y2="270.5" stroke="#6a6364" stroke-width="1.0"/>
<text x="495" y="274.5" font-size="11.3" fill="#1f1a1b" text-anchor="end" font-weight="bold" font-style="normal" >5</text>
<text x="498.5" y="397.9" font-size="11.3" fill="#1f1a1b" text-anchor="middle" font-weight="bold" font-style="normal" >0</text>
<text x="530.84" y="397.9" font-size="11.3" fill="#1f1a1b" text-anchor="middle" font-weight="bold" font-style="normal" >2</text>
<text x="563.18" y="397.9" font-size="11.3" fill="#1f1a1b" text-anchor="middle" font-weight="bold" font-style="normal" >4</text>
<text x="595.52" y="397.9" font-size="11.3" fill="#1f1a1b" text-anchor="middle" font-weight="bold" font-style="normal" >6</text>
<text x="627.86" y="397.9" font-size="11.3" fill="#1f1a1b" text-anchor="middle" font-weight="bold" font-style="normal" >8</text>
<text x="660.2" y="397.9" font-size="11.3" fill="#1f1a1b" text-anchor="middle" font-weight="bold" font-style="normal" >10</text>
<text x="499.5" y="266.9" font-size="9.3" fill="#1f1a1b" font-weight="bold">x10<tspan font-size="6" dy="-5">-4</tspan></text>
<text x="501.5" y="281.9" font-size="10.8" fill="#1f1a1b" text-anchor="start" font-weight="bold" font-style="normal" >Hyb_2</text>
<line x1="501" y1="291.2" x2="513" y2="291.2" stroke="#3a3a3a" stroke-width="1.0"/>
<use href="#bd0" x="506.7" y="291.2"/>
<text x="513.9" y="293.2" font-size="5.7" fill="#403a3b" font-weight="bold" textLength="20.2" lengthAdjust="spacingAndGlyphs">V<tspan font-size="3.3" dy="1.5">GS</tspan><tspan dy="-1.5"> = 0 V</tspan></text>
<line x1="501" y1="299" x2="513" y2="299" stroke="#f39aa0" stroke-width="1.0"/>
<use href="#bd1" x="506.7" y="299"/>
<text x="513.9" y="301" font-size="5.7" fill="#403a3b" font-weight="bold" textLength="24.0" lengthAdjust="spacingAndGlyphs">V<tspan font-size="3.3" dy="1.5">GS</tspan><tspan dy="-1.5"> = 2.5 V</tspan></text>
<line x1="501" y1="306.8" x2="513" y2="306.8" stroke="#9fd6d8" stroke-width="1.0"/>
<use href="#bd2" x="506.7" y="306.8"/>
<text x="513.9" y="308.8" font-size="5.7" fill="#403a3b" font-weight="bold" textLength="20.2" lengthAdjust="spacingAndGlyphs">V<tspan font-size="3.3" dy="1.5">GS</tspan><tspan dy="-1.5"> = 5 V</tspan></text>
<line x1="501" y1="314.6" x2="513" y2="314.6" stroke="#1e8a98" stroke-width="1.0"/>
<use href="#bd3" x="506.7" y="314.6"/>
<text x="513.9" y="316.6" font-size="5.7" fill="#403a3b" font-weight="bold" textLength="24.0" lengthAdjust="spacingAndGlyphs">V<tspan font-size="3.3" dy="1.5">GS</tspan><tspan dy="-1.5"> = 7.5 V</tspan></text>
<line x1="501" y1="322.4" x2="513" y2="322.4" stroke="#27306e" stroke-width="1.0"/>
<use href="#bd4" x="506.7" y="322.4"/>
<text x="513.9" y="324.4" font-size="5.7" fill="#403a3b" font-weight="bold" textLength="22.4" lengthAdjust="spacingAndGlyphs">V<tspan font-size="3.3" dy="1.5">GS</tspan><tspan dy="-1.5"> = 10 V</tspan></text>
<text x="562.3" y="410.9" font-size="12.2" fill="#1f1a1b" font-weight="bold"><tspan font-style="italic">V</tspan><tspan font-size="7.9" dy="5.0">DS</tspan><tspan dy="-5.0">(V)</tspan></text>
<text transform="translate(478.8,343.6) rotate(-90)" font-size="14" fill="#1f1a1b" font-weight="bold"><tspan font-style="italic">I</tspan><tspan font-size="8.6" dy="5.6">DS</tspan><tspan dy="-5.6">(A)</tspan></text>
</svg></body></html>
